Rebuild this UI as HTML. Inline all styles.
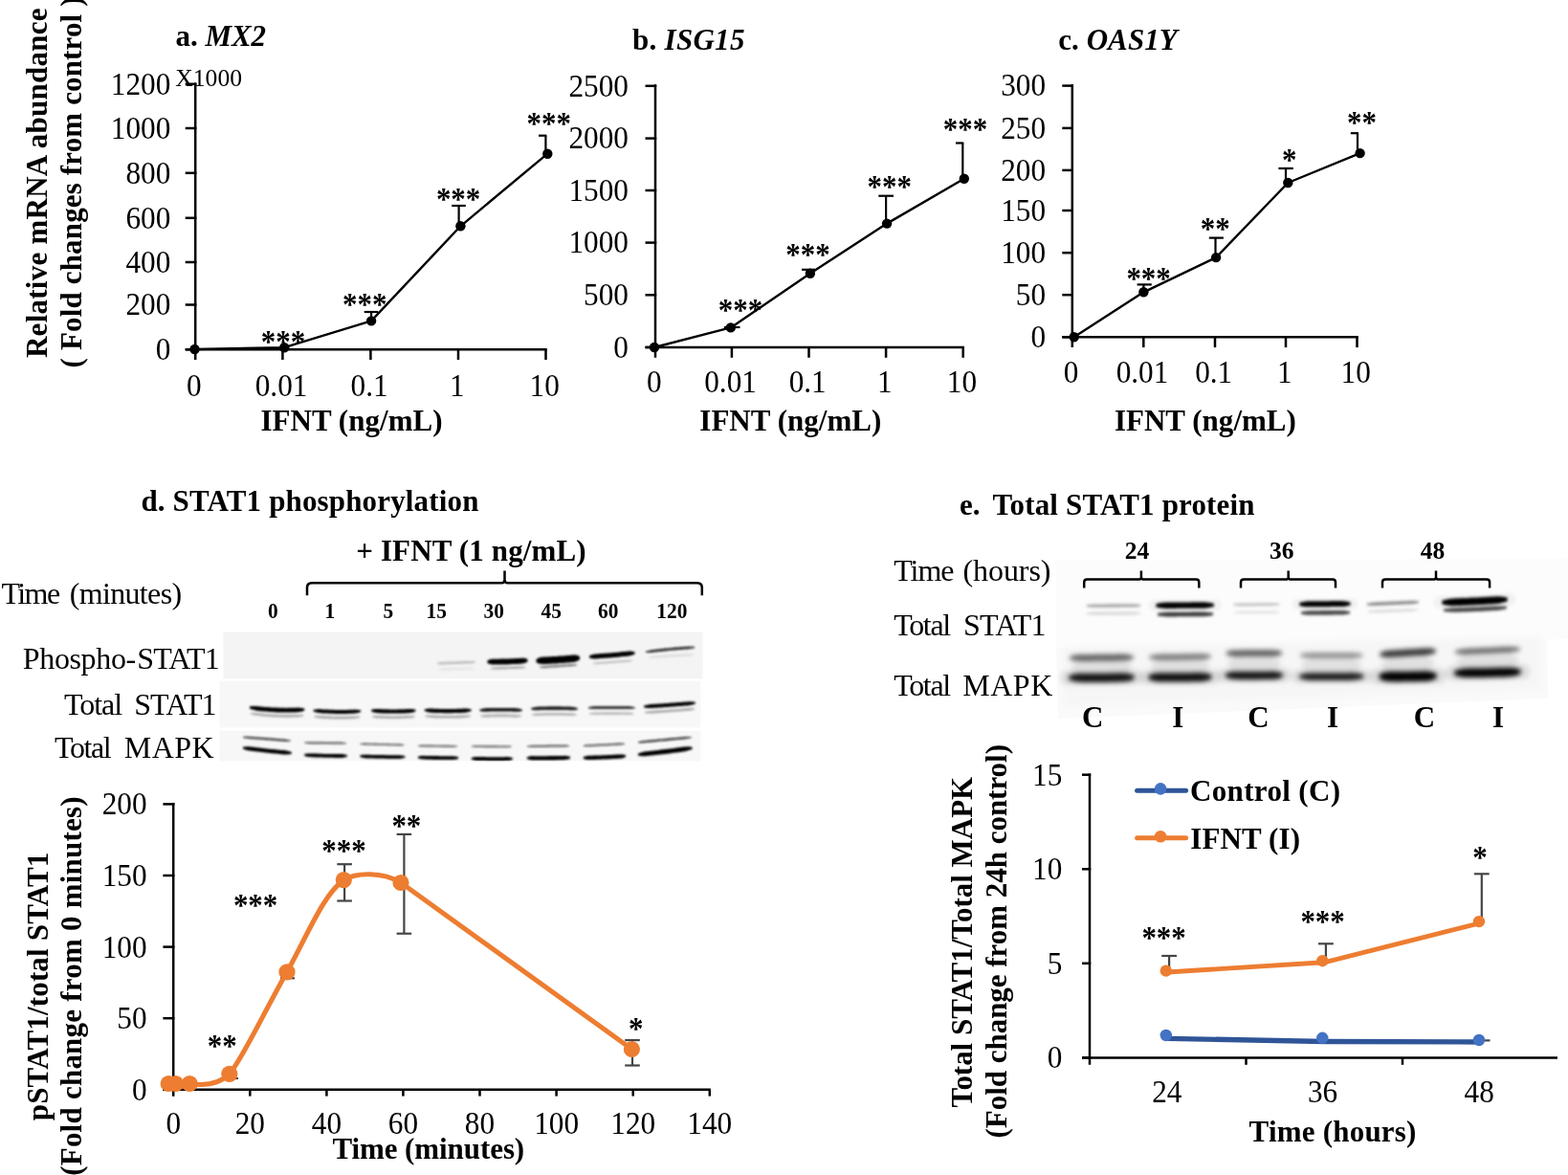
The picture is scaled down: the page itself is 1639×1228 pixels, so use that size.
<!DOCTYPE html>
<html><head><meta charset="utf-8"><title>Figure</title>
<style>
html,body{margin:0;padding:0;background:#fff;}
svg{display:block;font-family:"Liberation Serif",serif;fill:#000;}
</style></head><body>
<svg width="1639" height="1228" viewBox="0 0 1639 1228">
<defs>
<filter id="b1" filterUnits="userSpaceOnUse" x="200" y="640" width="600" height="180"><feGaussianBlur stdDeviation="1.1"/></filter>
<filter id="b2" filterUnits="userSpaceOnUse" x="1080" y="570" width="559" height="200"><feGaussianBlur stdDeviation="2.4"/></filter>
<filter id="b2s" filterUnits="userSpaceOnUse" x="1080" y="570" width="559" height="200"><feGaussianBlur stdDeviation="1.7"/></filter>
<filter id="b3" filterUnits="userSpaceOnUse" x="1080" y="570" width="559" height="200"><feGaussianBlur stdDeviation="3"/></filter>
</defs>
<rect x="0" y="0" width="1639" height="1228" fill="#fff"/>

<text x="183.6" y="47.9" font-size="31" font-weight="bold" textLength="94.5" lengthAdjust="spacing">a. <tspan font-style="italic">MX2</tspan></text>
<text x="661" y="51.8" font-size="31" font-weight="bold" textLength="117.4" lengthAdjust="spacing">b. <tspan font-style="italic">ISG15</tspan></text>
<text x="1106.2" y="51.8" font-size="31" font-weight="bold" textLength="124.5" lengthAdjust="spacing">c. <tspan font-style="italic">OAS1Y</tspan></text>
<text x="0" y="0" font-size="25.8" transform="translate(183.2,89.6) scale(0.995,1)" >X1000</text>
<text x="0" y="0" font-size="31" font-weight="bold" textLength="365.5" lengthAdjust="spacing" transform="translate(48.9,374.0) rotate(-90)" >Relative mRNA abundance</text>
<text x="0" y="0" font-size="31" font-weight="bold" textLength="388.0" lengthAdjust="spacing" transform="translate(85.4,384.4) rotate(-90)" >( Fold changes from control )</text>
<line x1="204.2" y1="86.5" x2="204.2" y2="376.0" stroke="#000" stroke-width="2.5" />
<line x1="193.7" y1="365.2" x2="205.4" y2="365.2" stroke="#000" stroke-width="2.5" />
<text x="0" y="0" font-size="33" text-anchor="end" transform="translate(178.3,375.9) scale(0.948,1)" >0</text>
<line x1="193.7" y1="318.5" x2="205.4" y2="318.5" stroke="#000" stroke-width="2.5" />
<text x="0" y="0" font-size="33" text-anchor="end" transform="translate(178.3,329.2) scale(0.948,1)" >200</text>
<line x1="193.7" y1="274.0" x2="205.4" y2="274.0" stroke="#000" stroke-width="2.5" />
<text x="0" y="0" font-size="33" text-anchor="end" transform="translate(178.3,284.7) scale(0.948,1)" >400</text>
<line x1="193.7" y1="227.8" x2="205.4" y2="227.8" stroke="#000" stroke-width="2.5" />
<text x="0" y="0" font-size="33" text-anchor="end" transform="translate(178.3,238.5) scale(0.948,1)" >600</text>
<line x1="193.7" y1="180.8" x2="205.4" y2="180.8" stroke="#000" stroke-width="2.5" />
<text x="0" y="0" font-size="33" text-anchor="end" transform="translate(178.3,191.5) scale(0.948,1)" >800</text>
<line x1="193.7" y1="134.0" x2="205.4" y2="134.0" stroke="#000" stroke-width="2.5" />
<text x="0" y="0" font-size="33" text-anchor="end" transform="translate(178.3,144.7) scale(0.948,1)" >1000</text>
<line x1="193.7" y1="87.8" x2="205.4" y2="87.8" stroke="#000" stroke-width="2.5" />
<text x="0" y="0" font-size="33" text-anchor="end" transform="translate(178.3,98.5) scale(0.948,1)" >1200</text>
<line x1="193.7" y1="365.2" x2="571.8" y2="365.2" stroke="#000" stroke-width="2.5" />
<line x1="295.4" y1="365.2" x2="295.4" y2="376.0" stroke="#000" stroke-width="2.5" />
<line x1="387.4" y1="365.2" x2="387.4" y2="376.0" stroke="#000" stroke-width="2.5" />
<line x1="479.0" y1="365.2" x2="479.0" y2="376.0" stroke="#000" stroke-width="2.5" />
<line x1="570.5" y1="365.2" x2="570.5" y2="376.0" stroke="#000" stroke-width="2.5" />
<text x="0" y="0" font-size="33" text-anchor="middle" transform="translate(202.9,413.6) scale(0.948,1)" >0</text>
<text x="0" y="0" font-size="33" text-anchor="middle" transform="translate(294.1,413.6) scale(0.948,1)" >0.01</text>
<text x="0" y="0" font-size="33" text-anchor="middle" transform="translate(386.1,413.6) scale(0.948,1)" >0.1</text>
<text x="0" y="0" font-size="33" text-anchor="middle" transform="translate(477.7,413.6) scale(0.948,1)" >1</text>
<text x="0" y="0" font-size="33" text-anchor="middle" transform="translate(569.2,413.6) scale(0.948,1)" >10</text>
<polyline points="203.5,365.0 297.2,363.2 388.1,335.4 481.4,236.3 572.3,160.7" fill="none" stroke="#000" stroke-width="2.4" stroke-linejoin="round" stroke-linecap="round" />
<line x1="388.1" y1="326.0" x2="388.1" y2="335.0" stroke="#000" stroke-width="2.2" />
<line x1="380.7" y1="326.0" x2="395.3" y2="326.0" stroke="#000" stroke-width="2.2" />
<line x1="479.6" y1="215.0" x2="479.6" y2="236.0" stroke="#000" stroke-width="2.2" />
<line x1="472.2" y1="215.0" x2="486.8" y2="215.0" stroke="#000" stroke-width="2.2" />
<line x1="570.4" y1="141.7" x2="570.4" y2="160.0" stroke="#000" stroke-width="2.2" />
<line x1="563.0" y1="141.7" x2="571.4" y2="141.7" stroke="#000" stroke-width="2.2" />
<circle cx="203.5" cy="365.0" r="5.2" fill="#000"/>
<circle cx="297.2" cy="363.2" r="5.2" fill="#000"/>
<circle cx="388.1" cy="335.4" r="5.2" fill="#000"/>
<circle cx="481.4" cy="236.3" r="5.2" fill="#000"/>
<circle cx="572.3" cy="160.7" r="5.2" fill="#000"/>
<text x="0" y="0" font-size="34" font-weight="bold" transform="translate(272.7,368.0) scale(0.91,1)" >***</text>
<text x="0" y="0" font-size="34" font-weight="bold" transform="translate(358.0,329.0) scale(0.91,1)" >***</text>
<text x="0" y="0" font-size="34" font-weight="bold" transform="translate(455.9,219.0) scale(0.91,1)" >***</text>
<text x="0" y="0" font-size="34" font-weight="bold" transform="translate(550.6,139.8) scale(0.91,1)" >***</text>
<text x="272.5" y="449.5" font-size="31" font-weight="bold" textLength="190.0" lengthAdjust="spacing" >IFNT (ng/mL)</text>
<line x1="685.0" y1="88.3" x2="685.0" y2="373.8" stroke="#000" stroke-width="2.5" />
<line x1="674.5" y1="363.0" x2="686.2" y2="363.0" stroke="#000" stroke-width="2.5" />
<text x="0" y="0" font-size="33" text-anchor="end" transform="translate(657.0,373.7) scale(0.948,1)" >0</text>
<line x1="674.5" y1="308.3" x2="686.2" y2="308.3" stroke="#000" stroke-width="2.5" />
<text x="0" y="0" font-size="33" text-anchor="end" transform="translate(657.0,319.0) scale(0.948,1)" >500</text>
<line x1="674.5" y1="253.6" x2="686.2" y2="253.6" stroke="#000" stroke-width="2.5" />
<text x="0" y="0" font-size="33" text-anchor="end" transform="translate(657.0,264.3) scale(0.948,1)" >1000</text>
<line x1="674.5" y1="199.0" x2="686.2" y2="199.0" stroke="#000" stroke-width="2.5" />
<text x="0" y="0" font-size="33" text-anchor="end" transform="translate(657.0,209.7) scale(0.948,1)" >1500</text>
<line x1="674.5" y1="144.6" x2="686.2" y2="144.6" stroke="#000" stroke-width="2.5" />
<text x="0" y="0" font-size="33" text-anchor="end" transform="translate(657.0,155.3) scale(0.948,1)" >2000</text>
<line x1="674.5" y1="89.8" x2="686.2" y2="89.8" stroke="#000" stroke-width="2.5" />
<text x="0" y="0" font-size="33" text-anchor="end" transform="translate(657.0,100.5) scale(0.948,1)" >2500</text>
<line x1="674.5" y1="363.0" x2="1008.0" y2="363.0" stroke="#000" stroke-width="2.5" />
<line x1="764.9" y1="363.0" x2="764.9" y2="373.8" stroke="#000" stroke-width="2.5" />
<line x1="845.5" y1="363.0" x2="845.5" y2="373.8" stroke="#000" stroke-width="2.5" />
<line x1="926.1" y1="363.0" x2="926.1" y2="373.8" stroke="#000" stroke-width="2.5" />
<line x1="1006.7" y1="363.0" x2="1006.7" y2="373.8" stroke="#000" stroke-width="2.5" />
<text x="0" y="0" font-size="33" text-anchor="middle" transform="translate(683.7,410.1) scale(0.948,1)" >0</text>
<text x="0" y="0" font-size="33" text-anchor="middle" transform="translate(763.6,410.1) scale(0.948,1)" >0.01</text>
<text x="0" y="0" font-size="33" text-anchor="middle" transform="translate(844.2,410.1) scale(0.948,1)" >0.1</text>
<text x="0" y="0" font-size="33" text-anchor="middle" transform="translate(924.8,410.1) scale(0.948,1)" >1</text>
<text x="0" y="0" font-size="33" text-anchor="middle" transform="translate(1005.4,410.1) scale(0.948,1)" >10</text>
<polyline points="684.0,363.0 763.8,342.4 846.9,285.7 927.1,233.6 1007.8,186.7" fill="none" stroke="#000" stroke-width="2.4" stroke-linejoin="round" stroke-linecap="round" />
<line x1="764.9" y1="342.0" x2="764.9" y2="342.0" stroke="#000" stroke-width="2.2" />
<line x1="757.0" y1="342.0" x2="773.5" y2="342.0" stroke="#000" stroke-width="2.2" />
<line x1="845.5" y1="281.8" x2="845.5" y2="285.0" stroke="#000" stroke-width="2.2" />
<line x1="838.0" y1="281.8" x2="852.0" y2="281.8" stroke="#000" stroke-width="2.2" />
<line x1="926.1" y1="204.7" x2="926.1" y2="233.0" stroke="#000" stroke-width="2.2" />
<line x1="918.3" y1="204.7" x2="934.0" y2="204.7" stroke="#000" stroke-width="2.2" />
<line x1="1006.3" y1="149.5" x2="1006.3" y2="186.0" stroke="#000" stroke-width="2.2" />
<line x1="999.0" y1="149.5" x2="1007.3" y2="149.5" stroke="#000" stroke-width="2.2" />
<circle cx="684.0" cy="363.0" r="5.2" fill="#000"/>
<circle cx="763.8" cy="342.4" r="5.2" fill="#000"/>
<circle cx="846.9" cy="285.7" r="5.2" fill="#000"/>
<circle cx="927.1" cy="233.6" r="5.2" fill="#000"/>
<circle cx="1007.8" cy="186.7" r="5.2" fill="#000"/>
<text x="0" y="0" font-size="34" font-weight="bold" transform="translate(750.7,334.8) scale(0.91,1)" >***</text>
<text x="0" y="0" font-size="34" font-weight="bold" transform="translate(821.2,277.0) scale(0.91,1)" >***</text>
<text x="0" y="0" font-size="34" font-weight="bold" transform="translate(906.6,206.1) scale(0.91,1)" >***</text>
<text x="0" y="0" font-size="34" font-weight="bold" transform="translate(985.7,145.8) scale(0.91,1)" >***</text>
<text x="731.3" y="449.5" font-size="31" font-weight="bold" textLength="190.0" lengthAdjust="spacing" >IFNT (ng/mL)</text>
<line x1="1120.8" y1="88.0" x2="1120.8" y2="363.1" stroke="#000" stroke-width="2.5" />
<line x1="1110.3" y1="352.3" x2="1122.0" y2="352.3" stroke="#000" stroke-width="2.5" />
<text x="0" y="0" font-size="33" text-anchor="end" transform="translate(1093.1,363.0) scale(0.948,1)" >0</text>
<line x1="1110.3" y1="308.2" x2="1122.0" y2="308.2" stroke="#000" stroke-width="2.5" />
<text x="0" y="0" font-size="33" text-anchor="end" transform="translate(1093.1,318.9) scale(0.948,1)" >50</text>
<line x1="1110.3" y1="264.2" x2="1122.0" y2="264.2" stroke="#000" stroke-width="2.5" />
<text x="0" y="0" font-size="33" text-anchor="end" transform="translate(1093.1,274.9) scale(0.948,1)" >100</text>
<line x1="1110.3" y1="220.0" x2="1122.0" y2="220.0" stroke="#000" stroke-width="2.5" />
<text x="0" y="0" font-size="33" text-anchor="end" transform="translate(1093.1,230.7) scale(0.948,1)" >150</text>
<line x1="1110.3" y1="177.9" x2="1122.0" y2="177.9" stroke="#000" stroke-width="2.5" />
<text x="0" y="0" font-size="33" text-anchor="end" transform="translate(1093.1,188.6) scale(0.948,1)" >200</text>
<line x1="1110.3" y1="133.9" x2="1122.0" y2="133.9" stroke="#000" stroke-width="2.5" />
<text x="0" y="0" font-size="33" text-anchor="end" transform="translate(1093.1,144.6) scale(0.948,1)" >250</text>
<line x1="1110.3" y1="89.6" x2="1122.0" y2="89.6" stroke="#000" stroke-width="2.5" />
<text x="0" y="0" font-size="33" text-anchor="end" transform="translate(1093.1,100.3) scale(0.948,1)" >300</text>
<line x1="1110.3" y1="352.3" x2="1419.8" y2="352.3" stroke="#000" stroke-width="2.5" />
<line x1="1195.3" y1="352.3" x2="1195.3" y2="363.1" stroke="#000" stroke-width="2.5" />
<line x1="1270.0" y1="352.3" x2="1270.0" y2="363.1" stroke="#000" stroke-width="2.5" />
<line x1="1344.0" y1="352.3" x2="1344.0" y2="363.1" stroke="#000" stroke-width="2.5" />
<line x1="1418.5" y1="352.3" x2="1418.5" y2="363.1" stroke="#000" stroke-width="2.5" />
<text x="0" y="0" font-size="33" text-anchor="middle" transform="translate(1119.5,399.8) scale(0.948,1)" >0</text>
<text x="0" y="0" font-size="33" text-anchor="middle" transform="translate(1194.0,399.8) scale(0.948,1)" >0.01</text>
<text x="0" y="0" font-size="33" text-anchor="middle" transform="translate(1268.7,399.8) scale(0.948,1)" >0.1</text>
<text x="0" y="0" font-size="33" text-anchor="middle" transform="translate(1342.7,399.8) scale(0.948,1)" >1</text>
<text x="0" y="0" font-size="33" text-anchor="middle" transform="translate(1417.2,399.8) scale(0.948,1)" >10</text>
<polyline points="1122.7,352.3 1195.4,305.3 1271.1,269.1 1346.3,191.0 1421.6,160.1" fill="none" stroke="#000" stroke-width="2.4" stroke-linejoin="round" stroke-linecap="round" />
<line x1="1195.4" y1="297.4" x2="1195.4" y2="305.0" stroke="#000" stroke-width="2.2" />
<line x1="1188.6" y1="297.4" x2="1203.8" y2="297.4" stroke="#000" stroke-width="2.2" />
<line x1="1270.5" y1="248.6" x2="1270.5" y2="269.0" stroke="#000" stroke-width="2.2" />
<line x1="1263.8" y1="248.6" x2="1278.9" y2="248.6" stroke="#000" stroke-width="2.2" />
<line x1="1344.0" y1="176.0" x2="1344.0" y2="191.0" stroke="#000" stroke-width="2.2" />
<line x1="1336.4" y1="176.0" x2="1351.8" y2="176.0" stroke="#000" stroke-width="2.2" />
<line x1="1419.0" y1="139.2" x2="1419.0" y2="160.0" stroke="#000" stroke-width="2.2" />
<line x1="1411.8" y1="139.2" x2="1420.0" y2="139.2" stroke="#000" stroke-width="2.2" />
<circle cx="1122.7" cy="352.3" r="5.2" fill="#000"/>
<circle cx="1195.4" cy="305.3" r="5.2" fill="#000"/>
<circle cx="1271.1" cy="269.1" r="5.2" fill="#000"/>
<circle cx="1346.3" cy="191.0" r="5.2" fill="#000"/>
<circle cx="1421.6" cy="160.1" r="5.2" fill="#000"/>
<text x="0" y="0" font-size="34" font-weight="bold" transform="translate(1177.4,302.3) scale(0.91,1)" >***</text>
<text x="0" y="0" font-size="34" font-weight="bold" transform="translate(1254.8,250.4) scale(0.91,1)" >**</text>
<text x="0" y="0" font-size="34" font-weight="bold" transform="translate(1339.9,178.4) scale(0.91,1)" >*</text>
<text x="0" y="0" font-size="34" font-weight="bold" transform="translate(1408.0,139.3) scale(0.91,1)" >**</text>
<text x="1164.9" y="449.5" font-size="31" font-weight="bold" textLength="190.0" lengthAdjust="spacing" >IFNT (ng/mL)</text>
<text x="147.4" y="534.2" font-size="31" font-weight="bold" textLength="353.0" lengthAdjust="spacing" >d. STAT1 phosphorylation</text>
<text x="372.2" y="586.1" font-size="31" font-weight="bold" textLength="240.5" lengthAdjust="spacing" >+ IFNT (1 ng/mL)</text>
<text x="1.4" y="630.6" font-size="32" textLength="61.7" lengthAdjust="spacing" >Time</text>
<text x="72.7" y="630.6" font-size="32" textLength="117.4" lengthAdjust="spacing" >(minutes)</text>
<text x="23.8" y="699.1" font-size="32" textLength="118.4" lengthAdjust="spacing" >Phospho-</text>
<text x="143.3" y="699.1" font-size="32" textLength="86.4" lengthAdjust="spacing" >STAT1</text>
<text x="66.9" y="747.2" font-size="32" textLength="61.3" lengthAdjust="spacing" >Total</text>
<text x="140.2" y="747.2" font-size="32" textLength="86.4" lengthAdjust="spacing" >STAT1</text>
<text x="57.1" y="792.4" font-size="32" textLength="59.5" lengthAdjust="spacing" >Total</text>
<text x="129.8" y="792.4" font-size="32" textLength="93.7" lengthAdjust="spacing" >MAPK</text>
<path d="M321,622.3 V614 Q321,609.2 326,609.2 H524.5 Q527.5,609.2 527.5,606 V596.6 V606 Q527.5,609.2 530.5,609.2 H728.8 Q733.8,609.2 733.8,614 V622.3" fill="none" stroke="#000" stroke-width="2.5"/>
<text x="0" y="0" font-size="23" font-weight="bold" text-anchor="middle" transform="translate(285.3,646.0) scale(0.93,1)" >0</text>
<text x="0" y="0" font-size="23" font-weight="bold" text-anchor="middle" transform="translate(344.8,646.0) scale(0.93,1)" >1</text>
<text x="0" y="0" font-size="23" font-weight="bold" text-anchor="middle" transform="translate(405.8,646.0) scale(0.93,1)" >5</text>
<text x="0" y="0" font-size="23" font-weight="bold" text-anchor="middle" transform="translate(456.2,646.0) scale(0.93,1)" >15</text>
<text x="0" y="0" font-size="23" font-weight="bold" text-anchor="middle" transform="translate(516.2,646.0) scale(0.93,1)" >30</text>
<text x="0" y="0" font-size="23" font-weight="bold" text-anchor="middle" transform="translate(576.3,646.0) scale(0.93,1)" >45</text>
<text x="0" y="0" font-size="23" font-weight="bold" text-anchor="middle" transform="translate(635.8,646.0) scale(0.93,1)" >60</text>
<text x="0" y="0" font-size="23" font-weight="bold" text-anchor="middle" transform="translate(702.3,646.0) scale(0.93,1)" >120</text>
<rect x="233.5" y="660.5" width="501" height="48.7" fill="#f4f4f4"/>
<rect x="229.5" y="711.7" width="503" height="48.7" fill="#f7f7f7"/>
<rect x="229.5" y="763.8" width="503" height="31.6" fill="#f7f7f7"/>
<clipPath id="cd"><rect x="233.5" y="660.5" width="501" height="48.7"/><rect x="229.5" y="711.7" width="503" height="48.7"/><rect x="229.5" y="763.8" width="503" height="31.6"/></clipPath>
<g clip-path="url(#cd)"><g filter="url(#b1)">
<path d="M457.0,692.7 L458.7,692.3 L460.3,692.0 L462.0,691.8 L463.7,691.8 L465.3,691.7 L467.0,691.7 L468.7,691.6 L470.3,691.6 L472.0,691.5 L473.7,691.5 L475.3,691.4 L477.0,691.4 L478.7,691.3 L480.3,691.2 L482.0,691.2 L483.7,691.1 L485.3,691.1 L487.0,691.0 L488.7,691.0 L490.3,690.9 L492.0,690.9 L493.7,690.9 L495.3,691.1 L497.0,691.4 L497.0,692.6 L495.3,693.0 L493.7,693.3 L492.0,693.5 L490.3,693.5 L488.7,693.6 L487.0,693.6 L485.3,693.7 L483.7,693.7 L482.0,693.8 L480.3,693.8 L478.7,693.9 L477.0,693.9 L475.3,694.0 L473.7,694.1 L472.0,694.1 L470.3,694.2 L468.7,694.2 L467.0,694.3 L465.3,694.3 L463.7,694.4 L462.0,694.4 L460.3,694.4 L458.7,694.2 L457.0,693.9Z" fill="#666" opacity="0.38"/>
<path d="M459.0,699.0 L460.5,698.8 L462.0,698.5 L463.5,698.4 L465.0,698.3 L466.5,698.3 L468.0,698.2 L469.5,698.2 L471.0,698.2 L472.5,698.1 L474.0,698.1 L475.5,698.0 L477.0,698.0 L478.5,698.0 L480.0,697.9 L481.5,697.9 L483.0,697.8 L484.5,697.8 L486.0,697.8 L487.5,697.7 L489.0,697.7 L490.5,697.6 L492.0,697.7 L493.5,697.8 L495.0,698.0 L495.0,699.0 L493.5,699.2 L492.0,699.5 L490.5,699.6 L489.0,699.7 L487.5,699.7 L486.0,699.8 L484.5,699.8 L483.0,699.8 L481.5,699.9 L480.0,699.9 L478.5,700.0 L477.0,700.0 L475.5,700.0 L474.0,700.1 L472.5,700.1 L471.0,700.2 L469.5,700.2 L468.0,700.2 L466.5,700.3 L465.0,700.3 L463.5,700.4 L462.0,700.3 L460.5,700.2 L459.0,700.0Z" fill="#888" opacity="0.15"/>
<path d="M509.5,690.3 L511.3,689.6 L513.0,689.0 L514.8,688.7 L516.5,688.7 L518.2,688.7 L520.0,688.7 L521.8,688.7 L523.5,688.6 L525.2,688.6 L527.0,688.6 L528.8,688.5 L530.5,688.5 L532.2,688.4 L534.0,688.3 L535.8,688.2 L537.5,688.2 L539.2,688.1 L541.0,688.0 L542.8,687.9 L544.5,687.8 L546.2,687.7 L548.0,687.8 L549.8,688.3 L551.5,688.9 L551.5,691.5 L549.8,692.4 L548.0,693.1 L546.2,693.5 L544.5,693.7 L542.8,693.8 L541.0,693.9 L539.2,694.0 L537.5,694.1 L535.8,694.1 L534.0,694.2 L532.2,694.3 L530.5,694.4 L528.8,694.4 L527.0,694.5 L525.2,694.5 L523.5,694.5 L521.8,694.6 L520.0,694.6 L518.2,694.6 L516.5,694.6 L514.8,694.6 L513.0,694.3 L511.3,693.7 L509.5,692.9Z" fill="#000" opacity="1"/>
<path d="M513.0,698.1 L514.5,697.8 L516.0,697.5 L517.5,697.4 L519.0,697.3 L520.5,697.2 L522.0,697.2 L523.5,697.1 L525.0,697.1 L526.5,697.0 L528.0,697.0 L529.5,697.0 L531.0,696.9 L532.5,696.9 L534.0,696.8 L535.5,696.8 L537.0,696.7 L538.5,696.6 L540.0,696.6 L541.5,696.5 L543.0,696.5 L544.5,696.5 L546.0,696.5 L547.5,696.7 L549.0,696.9 L549.0,697.9 L547.5,698.2 L546.0,698.5 L544.5,698.6 L543.0,698.7 L541.5,698.8 L540.0,698.8 L538.5,698.9 L537.0,698.9 L535.5,699.0 L534.0,699.0 L532.5,699.1 L531.0,699.1 L529.5,699.2 L528.0,699.2 L526.5,699.2 L525.0,699.3 L523.5,699.4 L522.0,699.4 L520.5,699.4 L519.0,699.5 L517.5,699.5 L516.0,699.5 L514.5,699.3 L513.0,699.1Z" fill="#555" opacity="0.5"/>
<path d="M560.5,688.9 L562.4,687.9 L564.3,687.1 L566.2,686.7 L568.1,686.6 L570.0,686.5 L571.9,686.4 L573.8,686.3 L575.7,686.2 L577.6,686.1 L579.5,686.0 L581.4,685.9 L583.2,685.8 L585.1,685.6 L587.0,685.5 L588.9,685.4 L590.8,685.2 L592.7,685.1 L594.6,684.9 L596.5,684.7 L598.4,684.6 L600.3,684.4 L602.2,684.6 L604.1,685.2 L606.0,685.9 L606.0,689.3 L604.1,690.4 L602.2,691.3 L600.3,691.9 L598.4,692.1 L596.5,692.2 L594.6,692.4 L592.7,692.6 L590.8,692.7 L588.9,692.9 L587.0,693.0 L585.1,693.1 L583.2,693.2 L581.4,693.4 L579.5,693.5 L577.6,693.6 L575.7,693.7 L573.8,693.8 L571.9,693.9 L570.0,694.0 L568.1,694.1 L566.2,694.1 L564.3,693.8 L562.4,693.2 L560.5,692.3Z" fill="#000" opacity="1"/>
<path d="M564.0,696.9 L565.6,696.5 L567.2,696.1 L568.9,695.9 L570.5,695.8 L572.1,695.7 L573.8,695.5 L575.4,695.4 L577.0,695.3 L578.6,695.2 L580.2,695.1 L581.9,695.0 L583.5,694.9 L585.1,694.8 L586.8,694.7 L588.4,694.6 L590.0,694.5 L591.6,694.4 L593.2,694.2 L594.9,694.1 L596.5,694.0 L598.1,693.9 L599.8,693.9 L601.4,694.1 L603.0,694.3 L603.0,695.3 L601.4,695.7 L599.8,696.1 L598.1,696.3 L596.5,696.4 L594.9,696.5 L593.2,696.6 L591.6,696.8 L590.0,696.9 L588.4,697.0 L586.8,697.1 L585.1,697.2 L583.5,697.3 L581.9,697.4 L580.2,697.5 L578.6,697.6 L577.0,697.7 L575.4,697.8 L573.8,697.9 L572.1,698.1 L570.5,698.2 L568.9,698.3 L567.2,698.3 L565.6,698.1 L564.0,697.9Z" fill="#333" opacity="0.6"/>
<path d="M616.0,685.3 L618.0,684.5 L620.0,683.9 L621.9,683.6 L623.9,683.4 L625.9,683.3 L627.9,683.1 L629.9,683.0 L631.8,682.8 L633.8,682.7 L635.8,682.5 L637.8,682.4 L639.8,682.2 L641.7,682.0 L643.7,681.9 L645.7,681.7 L647.7,681.5 L649.6,681.3 L651.6,681.1 L653.6,680.9 L655.6,680.7 L657.6,680.6 L659.5,680.6 L661.5,680.9 L663.5,681.3 L663.5,683.5 L661.5,684.4 L659.5,685.1 L657.6,685.5 L655.6,685.7 L653.6,685.9 L651.6,686.1 L649.6,686.3 L647.7,686.5 L645.7,686.7 L643.7,686.9 L641.7,687.0 L639.8,687.2 L637.8,687.4 L635.8,687.5 L633.8,687.7 L631.8,687.8 L629.9,688.0 L627.9,688.1 L625.9,688.3 L623.9,688.4 L621.9,688.5 L620.0,688.4 L618.0,688.0 L616.0,687.5Z" fill="#000" opacity="1"/>
<path d="M620.0,692.9 L621.7,692.6 L623.4,692.3 L625.1,692.0 L626.8,691.9 L628.5,691.8 L630.2,691.6 L632.0,691.5 L633.7,691.4 L635.4,691.3 L637.1,691.1 L638.8,691.0 L640.5,690.9 L642.2,690.8 L643.9,690.6 L645.6,690.5 L647.3,690.4 L649.0,690.3 L650.8,690.1 L652.5,690.0 L654.2,689.9 L655.9,689.8 L657.6,689.8 L659.3,689.8 L661.0,689.9 L661.0,690.9 L659.3,691.2 L657.6,691.5 L655.9,691.8 L654.2,691.9 L652.5,692.0 L650.8,692.1 L649.0,692.3 L647.3,692.4 L645.6,692.5 L643.9,692.6 L642.2,692.8 L640.5,692.9 L638.8,693.0 L637.1,693.1 L635.4,693.3 L633.7,693.4 L632.0,693.5 L630.2,693.6 L628.5,693.8 L626.8,693.9 L625.1,694.0 L623.4,694.0 L621.7,694.0 L620.0,693.9Z" fill="#666" opacity="0.4"/>
<path d="M675.0,680.8 L677.1,680.2 L679.2,679.7 L681.4,679.3 L683.5,679.0 L685.6,678.8 L687.8,678.5 L689.9,678.3 L692.0,678.1 L694.1,677.8 L696.2,677.6 L698.4,677.4 L700.5,677.2 L702.6,677.0 L704.8,676.8 L706.9,676.6 L709.0,676.5 L711.1,676.3 L713.2,676.1 L715.4,676.0 L717.5,675.8 L719.6,675.7 L721.8,675.7 L723.9,675.8 L726.0,676.0 L726.0,677.2 L723.9,677.6 L721.8,678.0 L719.6,678.3 L717.5,678.4 L715.4,678.6 L713.2,678.7 L711.1,678.9 L709.0,679.1 L706.9,679.2 L704.8,679.4 L702.6,679.6 L700.5,679.8 L698.4,680.0 L696.2,680.2 L694.1,680.4 L692.0,680.7 L689.9,680.9 L687.8,681.1 L685.6,681.4 L683.5,681.6 L681.4,681.9 L679.2,682.0 L677.1,682.0 L675.0,682.0Z" fill="#111" opacity="0.9"/>
<path d="M678.0,686.5 L680.0,686.2 L681.9,685.9 L683.9,685.6 L685.8,685.5 L687.8,685.4 L689.8,685.2 L691.7,685.1 L693.7,685.0 L695.6,684.9 L697.6,684.7 L699.5,684.6 L701.5,684.5 L703.5,684.4 L705.4,684.2 L707.4,684.1 L709.3,684.0 L711.3,683.9 L713.2,683.8 L715.2,683.6 L717.2,683.5 L719.1,683.4 L721.1,683.4 L723.0,683.4 L725.0,683.5 L725.0,684.5 L723.0,684.8 L721.1,685.1 L719.1,685.4 L717.2,685.5 L715.2,685.6 L713.2,685.8 L711.3,685.9 L709.3,686.0 L707.4,686.1 L705.4,686.2 L703.5,686.4 L701.5,686.5 L699.5,686.6 L697.6,686.7 L695.6,686.9 L693.7,687.0 L691.7,687.1 L689.8,687.2 L687.8,687.4 L685.8,687.5 L683.9,687.6 L681.9,687.6 L680.0,687.6 L678.0,687.5Z" fill="#888" opacity="0.25"/>
<path d="M261.0,738.3 L263.4,738.1 L265.8,737.9 L268.2,738.0 L270.5,738.3 L272.9,738.5 L275.3,738.7 L277.7,738.9 L280.1,739.1 L282.4,739.3 L284.8,739.4 L287.2,739.5 L289.6,739.6 L292.0,739.7 L294.4,739.8 L296.8,739.8 L299.1,739.9 L301.5,739.8 L303.9,739.8 L306.3,739.8 L308.7,739.7 L311.1,739.6 L313.4,739.8 L315.8,740.1 L318.2,740.5 L318.2,742.7 L315.8,743.4 L313.4,744.0 L311.1,744.3 L308.7,744.4 L306.3,744.5 L303.9,744.5 L301.5,744.5 L299.1,744.6 L296.8,744.5 L294.4,744.5 L292.0,744.4 L289.6,744.4 L287.2,744.2 L284.8,744.1 L282.4,744.0 L280.1,743.8 L277.7,743.6 L275.3,743.4 L272.9,743.2 L270.5,743.0 L268.2,742.7 L265.8,742.1 L263.4,741.4 L261.0,740.5Z" fill="#000" opacity="1"/>
<path d="M262.0,745.0 L264.3,745.0 L266.6,745.1 L268.9,745.2 L271.2,745.5 L273.5,745.7 L275.8,746.0 L278.1,746.2 L280.4,746.4 L282.7,746.5 L285.0,746.7 L287.3,746.8 L289.6,746.9 L291.9,747.0 L294.2,747.0 L296.5,747.1 L298.8,747.1 L301.1,747.1 L303.4,747.1 L305.7,747.0 L308.0,747.0 L310.3,746.9 L312.6,746.9 L314.9,747.0 L317.2,747.2 L317.2,748.4 L314.9,748.9 L312.6,749.2 L310.3,749.5 L308.0,749.6 L305.7,749.6 L303.4,749.7 L301.1,749.7 L298.8,749.7 L296.5,749.7 L294.2,749.6 L291.9,749.6 L289.6,749.5 L287.3,749.4 L285.0,749.3 L282.7,749.1 L280.4,749.0 L278.1,748.8 L275.8,748.6 L273.5,748.3 L271.2,748.1 L268.9,747.8 L266.6,747.4 L264.3,746.8 L262.0,746.2Z" fill="#333" opacity="0.4"/>
<path d="M327.6,741.7 L329.7,741.4 L331.7,741.2 L333.8,741.1 L335.9,741.3 L337.9,741.4 L340.0,741.5 L342.0,741.6 L344.1,741.7 L346.2,741.8 L348.2,741.8 L350.3,741.9 L352.4,741.9 L354.4,741.9 L356.5,741.9 L358.5,741.9 L360.6,741.9 L362.7,741.9 L364.7,741.8 L366.8,741.7 L368.9,741.7 L370.9,741.6 L373.0,741.7 L375.0,741.9 L377.1,742.3 L377.1,744.1 L375.0,744.7 L373.0,745.2 L370.9,745.5 L368.9,745.7 L366.8,745.7 L364.7,745.8 L362.7,745.9 L360.6,745.9 L358.5,745.9 L356.5,745.9 L354.4,745.9 L352.4,745.9 L350.3,745.9 L348.2,745.8 L346.2,745.8 L344.1,745.7 L342.0,745.6 L340.0,745.5 L337.9,745.4 L335.9,745.3 L333.8,745.1 L331.7,744.7 L329.7,744.2 L327.6,743.5Z" fill="#000" opacity="1"/>
<path d="M328.6,748.2 L330.6,748.1 L332.6,748.0 L334.5,748.0 L336.5,748.2 L338.5,748.3 L340.5,748.4 L342.5,748.5 L344.4,748.6 L346.4,748.7 L348.4,748.7 L350.4,748.8 L352.4,748.8 L354.3,748.8 L356.3,748.8 L358.3,748.8 L360.3,748.8 L362.2,748.8 L364.2,748.7 L366.2,748.6 L368.2,748.6 L370.2,748.5 L372.1,748.5 L374.1,748.6 L376.1,748.8 L376.1,750.0 L374.1,750.4 L372.1,750.8 L370.2,751.1 L368.2,751.2 L366.2,751.2 L364.2,751.3 L362.2,751.4 L360.3,751.4 L358.3,751.4 L356.3,751.4 L354.3,751.4 L352.4,751.4 L350.4,751.4 L348.4,751.3 L346.4,751.3 L344.4,751.2 L342.5,751.1 L340.5,751.0 L338.5,750.9 L336.5,750.8 L334.5,750.6 L332.6,750.3 L330.6,749.9 L328.6,749.4Z" fill="#333" opacity="0.4"/>
<path d="M388.2,741.7 L390.1,741.3 L392.0,741.0 L394.0,740.9 L395.9,741.0 L397.8,741.1 L399.7,741.2 L401.7,741.2 L403.6,741.3 L405.5,741.3 L407.4,741.4 L409.4,741.4 L411.3,741.4 L413.2,741.4 L415.1,741.4 L417.1,741.3 L419.0,741.3 L420.9,741.2 L422.8,741.2 L424.8,741.1 L426.7,741.0 L428.6,740.9 L430.5,741.0 L432.5,741.3 L434.4,741.7 L434.4,743.5 L432.5,744.2 L430.5,744.7 L428.6,745.1 L426.7,745.2 L424.8,745.3 L422.8,745.4 L420.9,745.4 L419.0,745.5 L417.1,745.5 L415.1,745.6 L413.2,745.6 L411.3,745.6 L409.4,745.6 L407.4,745.6 L405.5,745.5 L403.6,745.5 L401.7,745.4 L399.7,745.4 L397.8,745.3 L395.9,745.2 L394.0,745.1 L392.0,744.7 L390.1,744.2 L388.2,743.5Z" fill="#000" opacity="1"/>
<path d="M389.2,748.2 L391.0,748.0 L392.9,747.9 L394.7,747.9 L396.6,748.0 L398.4,748.1 L400.2,748.2 L402.1,748.2 L403.9,748.3 L405.8,748.3 L407.6,748.4 L409.5,748.4 L411.3,748.4 L413.1,748.4 L415.0,748.4 L416.8,748.3 L418.7,748.3 L420.5,748.2 L422.3,748.2 L424.2,748.1 L426.0,748.0 L427.9,747.9 L429.7,747.9 L431.6,748.0 L433.4,748.2 L433.4,749.4 L431.6,749.9 L429.7,750.2 L427.9,750.5 L426.0,750.6 L424.2,750.7 L422.3,750.8 L420.5,750.8 L418.7,750.9 L416.8,750.9 L415.0,751.0 L413.1,751.0 L411.3,751.0 L409.5,751.0 L407.6,751.0 L405.8,750.9 L403.9,750.9 L402.1,750.8 L400.2,750.8 L398.4,750.7 L396.6,750.6 L394.7,750.5 L392.9,750.2 L391.0,749.9 L389.2,749.4Z" fill="#333" opacity="0.4"/>
<path d="M443.7,741.3 L445.7,740.9 L447.8,740.6 L449.8,740.5 L451.9,740.6 L453.9,740.7 L455.9,740.8 L458.0,740.8 L460.0,740.9 L462.0,740.9 L464.1,741.0 L466.1,741.0 L468.1,741.0 L470.2,741.0 L472.2,741.0 L474.3,740.9 L476.3,740.9 L478.3,740.8 L480.4,740.8 L482.4,740.7 L484.4,740.6 L486.5,740.5 L488.5,740.6 L490.6,740.9 L492.6,741.3 L492.6,743.1 L490.6,743.8 L488.5,744.3 L486.5,744.7 L484.4,744.8 L482.4,744.9 L480.4,745.0 L478.3,745.0 L476.3,745.1 L474.3,745.1 L472.2,745.2 L470.2,745.2 L468.1,745.2 L466.1,745.2 L464.1,745.2 L462.0,745.1 L460.0,745.1 L458.0,745.0 L455.9,745.0 L453.9,744.9 L451.9,744.8 L449.8,744.7 L447.8,744.3 L445.7,743.8 L443.7,743.1Z" fill="#000" opacity="1"/>
<path d="M444.7,747.8 L446.7,747.6 L448.6,747.5 L450.6,747.5 L452.5,747.6 L454.5,747.7 L456.4,747.8 L458.4,747.8 L460.3,747.9 L462.3,747.9 L464.2,748.0 L466.2,748.0 L468.1,748.0 L470.1,748.0 L472.1,748.0 L474.0,747.9 L476.0,747.9 L477.9,747.8 L479.9,747.8 L481.8,747.7 L483.8,747.6 L485.7,747.5 L487.7,747.5 L489.6,747.6 L491.6,747.8 L491.6,749.0 L489.6,749.5 L487.7,749.8 L485.7,750.1 L483.8,750.2 L481.8,750.3 L479.9,750.4 L477.9,750.4 L476.0,750.5 L474.0,750.5 L472.1,750.6 L470.1,750.6 L468.1,750.6 L466.2,750.6 L464.2,750.6 L462.3,750.5 L460.3,750.5 L458.4,750.4 L456.4,750.4 L454.5,750.3 L452.5,750.2 L450.6,750.1 L448.6,749.8 L446.7,749.5 L444.7,749.0Z" fill="#333" opacity="0.4"/>
<path d="M501.4,741.4 L503.3,740.9 L505.1,740.4 L506.9,740.2 L508.8,740.1 L510.6,740.1 L512.5,740.0 L514.3,740.0 L516.2,740.0 L518.0,739.9 L519.9,739.9 L521.8,739.9 L523.6,739.9 L525.4,739.9 L527.3,739.9 L529.1,739.9 L531.0,740.0 L532.8,740.0 L534.7,740.0 L536.5,740.1 L538.4,740.1 L540.2,740.2 L542.1,740.4 L543.9,740.9 L545.8,741.4 L545.8,743.0 L543.9,743.4 L542.1,743.7 L540.2,743.8 L538.4,743.7 L536.5,743.7 L534.7,743.6 L532.8,743.6 L531.0,743.6 L529.1,743.5 L527.3,743.5 L525.4,743.5 L523.6,743.5 L521.8,743.5 L519.9,743.5 L518.0,743.5 L516.2,743.6 L514.3,743.6 L512.5,743.6 L510.6,743.7 L508.8,743.7 L506.9,743.8 L505.1,743.7 L503.3,743.4 L501.4,743.0Z" fill="#000" opacity="0.92"/>
<path d="M502.4,747.8 L504.2,747.4 L505.9,747.1 L507.7,746.9 L509.5,746.8 L511.2,746.8 L513.0,746.7 L514.8,746.7 L516.5,746.7 L518.3,746.6 L520.1,746.6 L521.8,746.6 L523.6,746.6 L525.4,746.6 L527.1,746.6 L528.9,746.6 L530.7,746.7 L532.4,746.7 L534.2,746.7 L536.0,746.8 L537.7,746.8 L539.5,746.9 L541.3,747.1 L543.0,747.4 L544.8,747.8 L544.8,749.0 L543.0,749.2 L541.3,749.4 L539.5,749.5 L537.7,749.4 L536.0,749.4 L534.2,749.3 L532.4,749.3 L530.7,749.3 L528.9,749.2 L527.1,749.2 L525.4,749.2 L523.6,749.2 L521.8,749.2 L520.1,749.2 L518.3,749.2 L516.5,749.3 L514.8,749.3 L513.0,749.3 L511.2,749.4 L509.5,749.4 L507.7,749.5 L505.9,749.4 L504.2,749.2 L502.4,749.0Z" fill="#333" opacity="0.36800000000000005"/>
<path d="M555.2,740.0 L557.2,739.4 L559.2,739.0 L561.3,738.7 L563.3,738.6 L565.3,738.5 L567.3,738.5 L569.4,738.4 L571.4,738.4 L573.4,738.3 L575.4,738.3 L577.5,738.3 L579.5,738.3 L581.5,738.3 L583.5,738.3 L585.6,738.3 L587.6,738.4 L589.6,738.4 L591.6,738.5 L593.7,738.5 L595.7,738.6 L597.7,738.7 L599.7,739.0 L601.8,739.4 L603.8,740.0 L603.8,741.6 L601.8,741.9 L599.7,742.2 L597.7,742.3 L595.7,742.2 L593.7,742.1 L591.6,742.1 L589.6,742.0 L587.6,742.0 L585.6,741.9 L583.5,741.9 L581.5,741.9 L579.5,741.9 L577.5,741.9 L575.4,741.9 L573.4,741.9 L571.4,742.0 L569.4,742.0 L567.3,742.1 L565.3,742.1 L563.3,742.2 L561.3,742.3 L559.2,742.2 L557.2,741.9 L555.2,741.6Z" fill="#000" opacity="0.88"/>
<path d="M556.2,746.4 L558.1,746.0 L560.1,745.6 L562.0,745.4 L564.0,745.3 L565.9,745.2 L567.8,745.2 L569.8,745.1 L571.7,745.1 L573.7,745.0 L575.6,745.0 L577.6,745.0 L579.5,745.0 L581.4,745.0 L583.4,745.0 L585.3,745.0 L587.3,745.1 L589.2,745.1 L591.1,745.2 L593.1,745.2 L595.0,745.3 L597.0,745.4 L598.9,745.6 L600.9,746.0 L602.8,746.4 L602.8,747.6 L600.9,747.8 L598.9,747.9 L597.0,748.0 L595.0,747.9 L593.1,747.8 L591.1,747.8 L589.2,747.7 L587.3,747.7 L585.3,747.6 L583.4,747.6 L581.4,747.6 L579.5,747.6 L577.6,747.6 L575.6,747.6 L573.7,747.6 L571.7,747.7 L569.8,747.7 L567.8,747.8 L565.9,747.8 L564.0,747.9 L562.0,748.0 L560.1,747.9 L558.1,747.8 L556.2,747.6Z" fill="#333" opacity="0.35200000000000004"/>
<path d="M615.0,739.1 L617.0,738.7 L619.0,738.3 L621.1,738.1 L623.1,738.1 L625.1,738.0 L627.1,738.0 L629.2,738.0 L631.2,737.9 L633.2,737.9 L635.2,737.9 L637.3,737.9 L639.3,737.9 L641.3,737.9 L643.4,737.9 L645.4,737.9 L647.4,737.9 L649.4,738.0 L651.5,738.0 L653.5,738.0 L655.5,738.1 L657.5,738.1 L659.5,738.3 L661.6,738.7 L663.6,739.1 L663.6,740.5 L661.6,740.8 L659.5,741.0 L657.5,741.1 L655.5,741.1 L653.5,741.0 L651.5,741.0 L649.4,741.0 L647.4,740.9 L645.4,740.9 L643.4,740.9 L641.3,740.9 L639.3,740.9 L637.3,740.9 L635.2,740.9 L633.2,740.9 L631.2,740.9 L629.2,741.0 L627.1,741.0 L625.1,741.0 L623.1,741.1 L621.1,741.1 L619.0,741.0 L617.0,740.8 L615.0,740.5Z" fill="#000" opacity="0.78"/>
<path d="M616.0,745.4 L617.9,745.0 L619.9,744.7 L621.8,744.5 L623.8,744.5 L625.7,744.4 L627.6,744.4 L629.6,744.4 L631.5,744.3 L633.5,744.3 L635.4,744.3 L637.4,744.3 L639.3,744.3 L641.2,744.3 L643.2,744.3 L645.1,744.3 L647.1,744.3 L649.0,744.4 L651.0,744.4 L652.9,744.4 L654.8,744.5 L656.8,744.5 L658.7,744.7 L660.7,745.0 L662.6,745.4 L662.6,746.6 L660.7,746.8 L658.7,747.0 L656.8,747.1 L654.8,747.1 L652.9,747.0 L651.0,747.0 L649.0,747.0 L647.1,746.9 L645.1,746.9 L643.2,746.9 L641.2,746.9 L639.3,746.9 L637.4,746.9 L635.4,746.9 L633.5,746.9 L631.5,746.9 L629.6,747.0 L627.6,747.0 L625.7,747.0 L623.8,747.1 L621.8,747.1 L619.9,747.0 L617.9,746.8 L616.0,746.6Z" fill="#333" opacity="0.31200000000000006"/>
<path d="M673.0,737.5 L675.2,736.9 L677.5,736.4 L679.7,736.1 L682.0,735.9 L684.2,735.8 L686.4,735.7 L688.7,735.5 L690.9,735.4 L693.2,735.3 L695.4,735.1 L697.7,735.0 L699.9,734.8 L702.1,734.6 L704.4,734.5 L706.6,734.3 L708.9,734.1 L711.1,734.0 L713.3,733.8 L715.6,733.6 L717.8,733.4 L720.1,733.2 L722.3,733.2 L724.6,733.4 L726.8,733.7 L726.8,735.5 L724.6,736.2 L722.3,736.8 L720.1,737.2 L717.8,737.4 L715.6,737.6 L713.3,737.8 L711.1,738.0 L708.9,738.1 L706.6,738.3 L704.4,738.5 L702.1,738.6 L699.9,738.8 L697.7,739.0 L695.4,739.1 L693.2,739.3 L690.9,739.4 L688.7,739.5 L686.4,739.7 L684.2,739.8 L682.0,739.9 L679.7,740.0 L677.5,740.0 L675.2,739.7 L673.0,739.3Z" fill="#000" opacity="1"/>
<path d="M674.0,744.0 L676.2,743.6 L678.3,743.2 L680.5,743.0 L682.6,742.8 L684.8,742.7 L686.9,742.6 L689.1,742.4 L691.3,742.3 L693.4,742.2 L695.6,742.0 L697.7,741.9 L699.9,741.7 L702.1,741.5 L704.2,741.4 L706.4,741.2 L708.5,741.0 L710.7,740.9 L712.8,740.7 L715.0,740.5 L717.2,740.3 L719.3,740.1 L721.5,740.0 L723.6,740.1 L725.8,740.2 L725.8,741.4 L723.6,741.9 L721.5,742.4 L719.3,742.7 L717.2,742.9 L715.0,743.1 L712.8,743.3 L710.7,743.5 L708.5,743.6 L706.4,743.8 L704.2,744.0 L702.1,744.1 L699.9,744.3 L697.7,744.5 L695.6,744.6 L693.4,744.8 L691.3,744.9 L689.1,745.0 L686.9,745.2 L684.8,745.3 L682.6,745.4 L680.5,745.5 L678.3,745.5 L676.2,745.4 L674.0,745.2Z" fill="#333" opacity="0.4"/>
<path d="M254.0,769.9 L256.1,769.8 L258.1,769.7 L260.2,769.7 L262.3,769.9 L264.4,770.0 L266.4,770.2 L268.5,770.4 L270.6,770.5 L272.6,770.7 L274.7,770.8 L276.8,771.0 L278.9,771.1 L280.9,771.3 L283.0,771.5 L285.1,771.6 L287.1,771.8 L289.2,771.9 L291.3,772.1 L293.3,772.3 L295.4,772.4 L297.5,772.6 L299.6,772.9 L301.6,773.2 L303.7,773.7 L303.7,774.7 L301.6,774.8 L299.6,774.9 L297.5,774.9 L295.4,774.7 L293.3,774.6 L291.3,774.4 L289.2,774.2 L287.1,774.1 L285.1,773.9 L283.0,773.8 L280.9,773.6 L278.9,773.4 L276.8,773.3 L274.7,773.1 L272.6,773.0 L270.6,772.8 L268.5,772.7 L266.4,772.5 L264.4,772.3 L262.3,772.2 L260.2,772.0 L258.1,771.7 L256.1,771.4 L254.0,770.9Z" fill="#111" opacity="0.78"/>
<path d="M254.0,780.6 L256.1,780.4 L258.2,780.2 L260.3,780.3 L262.5,780.5 L264.6,780.8 L266.7,781.0 L268.8,781.3 L270.9,781.5 L273.0,781.8 L275.1,782.0 L277.2,782.2 L279.4,782.5 L281.5,782.7 L283.6,782.9 L285.7,783.1 L287.8,783.3 L289.9,783.5 L292.0,783.7 L294.1,783.9 L296.2,784.1 L298.4,784.3 L300.5,784.7 L302.6,785.3 L304.7,786.0 L304.7,788.0 L302.6,788.3 L300.5,788.6 L298.4,788.6 L296.2,788.4 L294.1,788.2 L292.0,788.0 L289.9,787.8 L287.8,787.6 L285.7,787.4 L283.6,787.2 L281.5,787.0 L279.4,786.8 L277.2,786.5 L275.1,786.3 L273.0,786.1 L270.9,785.8 L268.8,785.6 L266.7,785.3 L264.6,785.1 L262.5,784.8 L260.3,784.5 L258.2,784.1 L256.1,783.4 L254.0,782.6Z" fill="#000" opacity="1"/>
<path d="M318.2,775.7 L320.0,775.5 L321.8,775.3 L323.6,775.2 L325.5,775.2 L327.3,775.2 L329.1,775.2 L330.9,775.3 L332.7,775.3 L334.6,775.3 L336.4,775.3 L338.2,775.4 L340.0,775.4 L341.8,775.4 L343.6,775.4 L345.4,775.5 L347.3,775.5 L349.1,775.5 L350.9,775.5 L352.7,775.6 L354.5,775.6 L356.4,775.6 L358.2,775.8 L360.0,776.0 L361.8,776.3 L361.8,777.3 L360.0,777.5 L358.2,777.7 L356.4,777.8 L354.5,777.8 L352.7,777.8 L350.9,777.8 L349.1,777.7 L347.3,777.7 L345.4,777.7 L343.6,777.6 L341.8,777.6 L340.0,777.6 L338.2,777.6 L336.4,777.5 L334.6,777.5 L332.7,777.5 L330.9,777.5 L329.1,777.4 L327.3,777.4 L325.5,777.4 L323.6,777.4 L321.8,777.2 L320.0,777.0 L318.2,776.7Z" fill="#111" opacity="0.62"/>
<path d="M318.2,788.1 L320.1,787.8 L321.9,787.5 L323.8,787.4 L325.6,787.4 L327.5,787.5 L329.3,787.6 L331.2,787.6 L333.1,787.7 L334.9,787.8 L336.8,787.8 L338.6,787.9 L340.5,787.9 L342.4,787.9 L344.2,788.0 L346.1,788.0 L347.9,788.0 L349.8,788.1 L351.6,788.1 L353.5,788.1 L355.4,788.1 L357.2,788.1 L359.1,788.3 L360.9,788.7 L362.8,789.1 L362.8,790.9 L360.9,791.3 L359.1,791.7 L357.2,791.9 L355.4,791.9 L353.5,791.9 L351.6,791.9 L349.8,791.9 L347.9,791.8 L346.1,791.8 L344.2,791.8 L342.4,791.7 L340.5,791.7 L338.6,791.7 L336.8,791.6 L334.9,791.6 L333.1,791.5 L331.2,791.4 L329.3,791.4 L327.5,791.3 L325.6,791.2 L323.8,791.1 L321.9,790.9 L320.1,790.4 L318.2,789.9Z" fill="#000" opacity="1"/>
<path d="M376.3,777.0 L378.2,776.8 L380.1,776.6 L382.1,776.6 L384.0,776.6 L385.9,776.7 L387.8,776.7 L389.7,776.7 L391.7,776.8 L393.6,776.8 L395.5,776.9 L397.4,776.9 L399.4,777.0 L401.3,777.0 L403.2,777.0 L405.1,777.1 L407.0,777.1 L409.0,777.2 L410.9,777.2 L412.8,777.2 L414.7,777.3 L416.6,777.3 L418.6,777.5 L420.5,777.7 L422.4,778.0 L422.4,779.0 L420.5,779.2 L418.6,779.4 L416.6,779.4 L414.7,779.4 L412.8,779.3 L410.9,779.3 L409.0,779.3 L407.0,779.2 L405.1,779.2 L403.2,779.1 L401.3,779.1 L399.4,779.0 L397.4,779.0 L395.5,779.0 L393.6,778.9 L391.7,778.9 L389.7,778.8 L387.8,778.8 L385.9,778.8 L384.0,778.7 L382.1,778.7 L380.1,778.5 L378.2,778.3 L376.3,778.0Z" fill="#111" opacity="0.58"/>
<path d="M376.3,789.5 L378.3,789.1 L380.2,788.8 L382.2,788.7 L384.2,788.7 L386.1,788.8 L388.1,788.9 L390.0,788.9 L392.0,789.0 L394.0,789.0 L395.9,789.0 L397.9,789.1 L399.9,789.1 L401.8,789.1 L403.8,789.2 L405.7,789.2 L407.7,789.2 L409.7,789.2 L411.6,789.2 L413.6,789.2 L415.5,789.2 L417.5,789.2 L419.5,789.4 L421.4,789.7 L423.4,790.2 L423.4,791.8 L421.4,792.3 L419.5,792.7 L417.5,792.9 L415.5,792.9 L413.6,792.9 L411.6,792.9 L409.7,792.9 L407.7,792.9 L405.7,792.9 L403.8,792.9 L401.8,792.8 L399.9,792.8 L397.9,792.8 L395.9,792.7 L394.0,792.7 L392.0,792.7 L390.0,792.6 L388.1,792.6 L386.1,792.5 L384.2,792.4 L382.2,792.4 L380.2,792.1 L378.3,791.7 L376.3,791.1Z" fill="#000" opacity="1"/>
<path d="M437.0,779.0 L438.7,778.8 L440.4,778.6 L442.1,778.5 L443.8,778.5 L445.5,778.6 L447.2,778.6 L449.0,778.6 L450.7,778.6 L452.4,778.6 L454.1,778.7 L455.8,778.7 L457.5,778.7 L459.2,778.7 L460.9,778.7 L462.6,778.8 L464.3,778.8 L466.0,778.8 L467.8,778.8 L469.5,778.8 L471.2,778.9 L472.9,778.9 L474.6,779.0 L476.3,779.2 L478.0,779.5 L478.0,780.5 L476.3,780.7 L474.6,780.9 L472.9,781.0 L471.2,781.0 L469.5,780.9 L467.8,780.9 L466.0,780.9 L464.3,780.9 L462.6,780.9 L460.9,780.8 L459.2,780.8 L457.5,780.8 L455.8,780.8 L454.1,780.8 L452.4,780.7 L450.7,780.7 L449.0,780.7 L447.2,780.7 L445.5,780.7 L443.8,780.6 L442.1,780.6 L440.4,780.5 L438.7,780.3 L437.0,780.0Z" fill="#111" opacity="0.58"/>
<path d="M437.0,790.6 L438.8,790.2 L440.5,789.9 L442.2,789.8 L444.0,789.9 L445.8,789.9 L447.5,790.0 L449.2,790.0 L451.0,790.0 L452.8,790.1 L454.5,790.1 L456.3,790.1 L458.0,790.1 L459.8,790.2 L461.5,790.2 L463.2,790.2 L465.0,790.2 L466.8,790.2 L468.5,790.2 L470.2,790.2 L472.0,790.2 L473.8,790.2 L475.5,790.4 L477.2,790.7 L479.0,791.1 L479.0,792.9 L477.2,793.4 L475.5,793.7 L473.8,794.0 L472.0,794.0 L470.2,794.0 L468.5,794.0 L466.8,794.0 L465.0,794.0 L463.2,794.0 L461.5,794.0 L459.8,794.0 L458.0,793.9 L456.3,793.9 L454.5,793.9 L452.8,793.9 L451.0,793.8 L449.2,793.8 L447.5,793.8 L445.8,793.7 L444.0,793.6 L442.2,793.6 L440.5,793.3 L438.8,792.9 L437.0,792.4Z" fill="#000" opacity="1"/>
<path d="M492.8,779.5 L494.5,779.3 L496.3,779.1 L498.0,779.0 L499.8,779.0 L501.5,779.0 L503.3,779.0 L505.0,779.0 L506.8,779.1 L508.5,779.1 L510.3,779.1 L512.0,779.1 L513.8,779.1 L515.5,779.1 L517.2,779.1 L519.0,779.1 L520.7,779.2 L522.5,779.2 L524.2,779.2 L526.0,779.2 L527.7,779.2 L529.5,779.2 L531.2,779.3 L533.0,779.6 L534.7,779.8 L534.7,780.8 L533.0,781.0 L531.2,781.2 L529.5,781.3 L527.7,781.3 L526.0,781.3 L524.2,781.3 L522.5,781.3 L520.7,781.2 L519.0,781.2 L517.2,781.2 L515.5,781.2 L513.8,781.2 L512.0,781.2 L510.3,781.2 L508.5,781.2 L506.8,781.2 L505.0,781.1 L503.3,781.1 L501.5,781.1 L499.8,781.1 L498.0,781.1 L496.3,781.0 L494.5,780.7 L492.8,780.5Z" fill="#111" opacity="0.58"/>
<path d="M492.8,791.9 L494.6,791.5 L496.4,791.1 L498.2,791.0 L500.0,791.0 L501.7,791.0 L503.5,791.1 L505.3,791.1 L507.1,791.1 L508.9,791.2 L510.7,791.2 L512.5,791.2 L514.2,791.2 L516.0,791.2 L517.8,791.2 L519.6,791.2 L521.4,791.2 L523.2,791.2 L525.0,791.2 L526.8,791.2 L528.6,791.1 L530.3,791.1 L532.1,791.3 L533.9,791.6 L535.7,792.1 L535.7,793.9 L533.9,794.4 L532.1,794.9 L530.3,795.1 L528.6,795.1 L526.8,795.2 L525.0,795.2 L523.2,795.2 L521.4,795.2 L519.6,795.2 L517.8,795.2 L516.0,795.2 L514.2,795.2 L512.5,795.2 L510.7,795.2 L508.9,795.2 L507.1,795.1 L505.3,795.1 L503.5,795.1 L501.7,795.0 L500.0,795.0 L498.2,794.9 L496.4,794.7 L494.6,794.3 L492.8,793.7Z" fill="#000" opacity="1"/>
<path d="M550.9,779.5 L552.7,779.2 L554.6,779.0 L556.4,778.8 L558.3,778.8 L560.1,778.8 L561.9,778.8 L563.8,778.8 L565.6,778.7 L567.4,778.7 L569.3,778.7 L571.1,778.7 L573.0,778.6 L574.8,778.6 L576.6,778.6 L578.5,778.6 L580.3,778.6 L582.1,778.5 L584.0,778.5 L585.8,778.5 L587.7,778.5 L589.5,778.5 L591.3,778.6 L593.2,778.8 L595.0,779.0 L595.0,780.0 L593.2,780.3 L591.3,780.5 L589.5,780.7 L587.7,780.7 L585.8,780.7 L584.0,780.7 L582.1,780.7 L580.3,780.8 L578.5,780.8 L576.6,780.8 L574.8,780.8 L573.0,780.9 L571.1,780.9 L569.3,780.9 L567.4,780.9 L565.6,780.9 L563.8,781.0 L561.9,781.0 L560.1,781.0 L558.3,781.0 L556.4,781.0 L554.6,780.9 L552.7,780.7 L550.9,780.5Z" fill="#111" opacity="0.62"/>
<path d="M550.9,791.2 L552.8,790.7 L554.7,790.3 L556.5,790.1 L558.4,790.2 L560.3,790.2 L562.2,790.2 L564.1,790.2 L565.9,790.2 L567.8,790.2 L569.7,790.2 L571.6,790.2 L573.5,790.1 L575.3,790.1 L577.2,790.1 L579.1,790.1 L581.0,790.1 L582.8,790.0 L584.7,790.0 L586.6,789.9 L588.5,789.9 L590.4,789.8 L592.2,790.0 L594.1,790.4 L596.0,790.8 L596.0,792.8 L594.1,793.4 L592.2,793.8 L590.4,794.1 L588.5,794.2 L586.6,794.2 L584.7,794.3 L582.8,794.3 L581.0,794.4 L579.1,794.4 L577.2,794.4 L575.3,794.4 L573.5,794.4 L571.6,794.5 L569.7,794.5 L567.8,794.5 L565.9,794.5 L564.1,794.5 L562.2,794.5 L560.3,794.5 L558.4,794.5 L556.5,794.4 L554.7,794.2 L552.8,793.7 L550.9,793.2Z" fill="#000" opacity="1"/>
<path d="M609.8,779.0 L611.6,778.6 L613.4,778.3 L615.2,778.1 L617.0,778.1 L618.8,778.0 L620.6,777.9 L622.4,777.8 L624.2,777.7 L626.0,777.6 L627.8,777.5 L629.6,777.4 L631.4,777.4 L633.2,777.3 L635.0,777.2 L636.8,777.1 L638.6,777.0 L640.4,776.9 L642.2,776.8 L644.0,776.7 L645.8,776.6 L647.6,776.6 L649.4,776.6 L651.2,776.7 L653.0,776.9 L653.0,777.9 L651.2,778.3 L649.4,778.6 L647.6,778.8 L645.8,778.9 L644.0,778.9 L642.2,779.0 L640.4,779.1 L638.6,779.2 L636.8,779.3 L635.0,779.4 L633.2,779.5 L631.4,779.6 L629.6,779.6 L627.8,779.7 L626.0,779.8 L624.2,779.9 L622.4,780.0 L620.6,780.1 L618.8,780.2 L617.0,780.3 L615.2,780.3 L613.4,780.3 L611.6,780.2 L609.8,780.0Z" fill="#111" opacity="0.62"/>
<path d="M609.8,791.0 L611.6,790.5 L613.5,790.0 L615.3,789.8 L617.2,789.7 L619.0,789.7 L620.8,789.6 L622.7,789.6 L624.5,789.5 L626.4,789.5 L628.2,789.4 L630.1,789.3 L631.9,789.3 L633.7,789.2 L635.6,789.1 L637.4,789.0 L639.3,788.9 L641.1,788.8 L643.0,788.7 L644.8,788.6 L646.6,788.5 L648.5,788.4 L650.3,788.5 L652.2,788.8 L654.0,789.2 L654.0,791.2 L652.2,791.8 L650.3,792.4 L648.5,792.7 L646.6,792.8 L644.8,792.9 L643.0,793.0 L641.1,793.1 L639.3,793.2 L637.4,793.3 L635.6,793.4 L633.7,793.5 L631.9,793.6 L630.1,793.6 L628.2,793.7 L626.4,793.8 L624.5,793.8 L622.7,793.9 L620.8,793.9 L619.0,794.0 L617.2,794.0 L615.3,794.0 L613.5,793.9 L611.6,793.5 L609.8,793.0Z" fill="#000" opacity="1"/>
<path d="M667.0,775.3 L669.3,774.7 L671.6,774.3 L673.9,774.0 L676.3,773.7 L678.6,773.5 L680.9,773.3 L683.2,773.1 L685.5,772.9 L687.8,772.6 L690.1,772.4 L692.4,772.2 L694.8,772.0 L697.1,771.8 L699.4,771.6 L701.7,771.3 L704.0,771.1 L706.3,770.9 L708.6,770.7 L710.9,770.5 L713.2,770.3 L715.6,770.1 L717.9,770.0 L720.2,770.0 L722.5,770.1 L722.5,771.1 L720.2,771.7 L717.9,772.1 L715.6,772.4 L713.2,772.7 L710.9,772.9 L708.6,773.1 L706.3,773.3 L704.0,773.5 L701.7,773.8 L699.4,774.0 L697.1,774.2 L694.8,774.4 L692.4,774.6 L690.1,774.8 L687.8,775.1 L685.5,775.3 L683.2,775.5 L680.9,775.7 L678.6,775.9 L676.3,776.1 L673.9,776.3 L671.6,776.4 L669.3,776.4 L667.0,776.3Z" fill="#111" opacity="0.78"/>
<path d="M667.0,787.5 L669.4,786.7 L671.7,785.9 L674.1,785.5 L676.4,785.2 L678.8,784.9 L681.1,784.7 L683.5,784.4 L685.8,784.2 L688.2,783.9 L690.5,783.6 L692.9,783.3 L695.2,783.0 L697.6,782.8 L700.0,782.5 L702.3,782.2 L704.7,781.9 L707.0,781.6 L709.4,781.3 L711.7,781.0 L714.1,780.6 L716.4,780.4 L718.8,780.3 L721.1,780.4 L723.5,780.7 L723.5,782.9 L721.1,783.8 L718.8,784.6 L716.4,785.2 L714.1,785.6 L711.7,785.9 L709.4,786.2 L707.0,786.5 L704.7,786.8 L702.3,787.1 L700.0,787.4 L697.6,787.7 L695.2,788.0 L692.9,788.2 L690.5,788.5 L688.2,788.8 L685.8,789.1 L683.5,789.3 L681.1,789.6 L678.8,789.8 L676.4,790.1 L674.1,790.3 L671.7,790.3 L669.4,790.1 L667.0,789.7Z" fill="#000" opacity="1"/>
</g></g>
<line x1="181.2" y1="839.1" x2="181.2" y2="1145.8" stroke="#000" stroke-width="2.5" />
<line x1="170.4" y1="1138.8" x2="182.4" y2="1138.8" stroke="#000" stroke-width="2.5" />
<text x="0" y="0" font-size="33" text-anchor="end" transform="translate(153.6,1149.8) scale(0.948,1)" >0</text>
<line x1="170.4" y1="1064.2" x2="182.4" y2="1064.2" stroke="#000" stroke-width="2.5" />
<text x="0" y="0" font-size="33" text-anchor="end" transform="translate(153.6,1075.2) scale(0.948,1)" >50</text>
<line x1="170.4" y1="989.6" x2="182.4" y2="989.6" stroke="#000" stroke-width="2.5" />
<text x="0" y="0" font-size="33" text-anchor="end" transform="translate(153.6,1000.6) scale(0.948,1)" >100</text>
<line x1="170.4" y1="915.0" x2="182.4" y2="915.0" stroke="#000" stroke-width="2.5" />
<text x="0" y="0" font-size="33" text-anchor="end" transform="translate(153.6,926.0) scale(0.948,1)" >150</text>
<line x1="170.4" y1="840.4" x2="182.4" y2="840.4" stroke="#000" stroke-width="2.5" />
<text x="0" y="0" font-size="33" text-anchor="end" transform="translate(153.6,851.4) scale(0.948,1)" >200</text>
<line x1="170.4" y1="1138.8" x2="742.8" y2="1138.8" stroke="#000" stroke-width="2.5" />
<text x="0" y="0" font-size="33" text-anchor="middle" transform="translate(181.2,1185.0) scale(0.948,1)" >0</text>
<line x1="261.3" y1="1138.8" x2="261.3" y2="1145.6" stroke="#000" stroke-width="2.5" />
<text x="0" y="0" font-size="33" text-anchor="middle" transform="translate(261.3,1185.0) scale(0.948,1)" >20</text>
<line x1="341.4" y1="1138.8" x2="341.4" y2="1145.6" stroke="#000" stroke-width="2.5" />
<text x="0" y="0" font-size="33" text-anchor="middle" transform="translate(341.4,1185.0) scale(0.948,1)" >40</text>
<line x1="421.4" y1="1138.8" x2="421.4" y2="1145.6" stroke="#000" stroke-width="2.5" />
<text x="0" y="0" font-size="33" text-anchor="middle" transform="translate(421.4,1185.0) scale(0.948,1)" >60</text>
<line x1="501.5" y1="1138.8" x2="501.5" y2="1145.6" stroke="#000" stroke-width="2.5" />
<text x="0" y="0" font-size="33" text-anchor="middle" transform="translate(501.5,1185.0) scale(0.948,1)" >80</text>
<line x1="581.6" y1="1138.8" x2="581.6" y2="1145.6" stroke="#000" stroke-width="2.5" />
<text x="0" y="0" font-size="33" text-anchor="middle" transform="translate(581.6,1185.0) scale(0.948,1)" >100</text>
<line x1="661.7" y1="1138.8" x2="661.7" y2="1145.6" stroke="#000" stroke-width="2.5" />
<text x="0" y="0" font-size="33" text-anchor="middle" transform="translate(661.7,1185.0) scale(0.948,1)" >120</text>
<line x1="741.8" y1="1138.8" x2="741.8" y2="1145.6" stroke="#000" stroke-width="2.5" />
<text x="0" y="0" font-size="33" text-anchor="middle" transform="translate(741.8,1185.0) scale(0.948,1)" >140</text>
<text x="347.4" y="1211.3" font-size="31" font-weight="bold" textLength="200.8" lengthAdjust="spacing" >Time (minutes)</text>
<text x="0" y="0" font-size="31" font-weight="bold" textLength="280.5" lengthAdjust="spacing" transform="translate(50.0,1171.2) rotate(-90)" >pSTAT1/total STAT1</text>
<text x="0" y="0" font-size="31" font-weight="bold" textLength="396.5" lengthAdjust="spacing" transform="translate(85.4,1228.8) rotate(-90)" >(Fold change from 0 minutes)</text>
<line x1="360.1" y1="903.2" x2="360.1" y2="941.5" stroke="#454545" stroke-width="2.2" />
<line x1="352.3" y1="903.2" x2="367.9" y2="903.2" stroke="#454545" stroke-width="2.2" />
<line x1="352.3" y1="941.5" x2="367.9" y2="941.5" stroke="#454545" stroke-width="2.2" />
<line x1="422.4" y1="871.9" x2="422.4" y2="975.7" stroke="#454545" stroke-width="2.2" />
<line x1="414.6" y1="871.9" x2="430.2" y2="871.9" stroke="#454545" stroke-width="2.2" />
<line x1="414.6" y1="975.7" x2="430.2" y2="975.7" stroke="#454545" stroke-width="2.2" />
<line x1="661.0" y1="1087.1" x2="661.0" y2="1113.5" stroke="#454545" stroke-width="2.2" />
<line x1="653.2" y1="1087.1" x2="668.8" y2="1087.1" stroke="#454545" stroke-width="2.2" />
<line x1="653.2" y1="1113.5" x2="668.8" y2="1113.5" stroke="#454545" stroke-width="2.2" />
<line x1="300.0" y1="1016.0" x2="300.0" y2="1022.3" stroke="#454545" stroke-width="2.2" />
<line x1="293.0" y1="1022.3" x2="308.0" y2="1022.3" stroke="#454545" stroke-width="2.2" />
<line x1="241.0" y1="1121.0" x2="241.0" y2="1127.0" stroke="#454545" stroke-width="2.2" />
<line x1="234.0" y1="1127.0" x2="249.0" y2="1127.0" stroke="#454545" stroke-width="2.2" />
<path d="M176.2,1132.5 L183.6,1132.5 L198.2,1132.5 C212,1134.6 229,1133.5 239.8,1122.3 C252,1109 276,1058 300,1015.8 C322,976 338,935 359.3,919.6 C372,911.8 400,910.8 419,922.5 L660.4,1096.5" fill="none" stroke="#ED7D31" stroke-width="5.1" stroke-linejoin="round" stroke-linecap="round"/>
<circle cx="176.2" cy="1132.5" r="8.6" fill="#ED7D31"/>
<circle cx="183.6" cy="1132.5" r="8.6" fill="#ED7D31"/>
<circle cx="198.2" cy="1132.5" r="8.6" fill="#ED7D31"/>
<circle cx="239.8" cy="1122.3" r="8.6" fill="#ED7D31"/>
<circle cx="300.0" cy="1015.8" r="8.6" fill="#ED7D31"/>
<circle cx="359.3" cy="919.6" r="8.6" fill="#ED7D31"/>
<circle cx="419.0" cy="922.5" r="8.6" fill="#ED7D31"/>
<circle cx="660.4" cy="1096.5" r="8.6" fill="#ED7D31"/>
<text x="0" y="0" font-size="34" font-weight="bold" transform="translate(216.8,1103.5) scale(0.91,1)" >**</text>
<text x="0" y="0" font-size="34" font-weight="bold" transform="translate(243.9,957.3) scale(0.91,1)" >***</text>
<text x="0" y="0" font-size="34" font-weight="bold" transform="translate(336.2,900.1) scale(0.91,1)" >***</text>
<text x="0" y="0" font-size="34" font-weight="bold" transform="translate(409.4,874.4) scale(0.91,1)" >**</text>
<text x="0" y="0" font-size="34" font-weight="bold" transform="translate(657.1,1086.3) scale(0.91,1)" >*</text>
<text x="1003.0" y="537.6" font-size="31" font-weight="bold" >e.</text>
<text x="1037.5" y="537.6" font-size="31" font-weight="bold" textLength="274.0" lengthAdjust="spacing" >Total STAT1 protein</text>
<text x="934.2" y="606.7" font-size="32" textLength="63.2" lengthAdjust="spacing" >Time</text>
<text x="1006.5" y="606.7" font-size="32" textLength="91.9" lengthAdjust="spacing" >(hours)</text>
<text x="934.2" y="664.2" font-size="32" textLength="60.0" lengthAdjust="spacing" >Total</text>
<text x="1007.1" y="664.2" font-size="32" textLength="86.4" lengthAdjust="spacing" >STAT1</text>
<text x="934.2" y="726.5" font-size="32" textLength="60.0" lengthAdjust="spacing" >Total</text>
<text x="1006.2" y="726.5" font-size="32" textLength="94.1" lengthAdjust="spacing" >MAPK</text>
<polygon points="1104,586 1639,583.5 1639,668 1104,678" fill="#fcfcfc"/>
<polygon points="1104,678 1617,667 1618,730 1106,751" fill="#fafafa"/>
<polygon points="1110,676 1610,666 1611,720 1111,738" fill="#f6f6f6" filter="url(#b3)"/>
<text x="1188.6" y="583.8" font-size="25.5" font-weight="bold" text-anchor="middle" >24</text>
<text x="1339.8" y="583.8" font-size="25.5" font-weight="bold" text-anchor="middle" >36</text>
<text x="1497.5" y="583.8" font-size="25.5" font-weight="bold" text-anchor="middle" >48</text>
<path d="M1133.2,614.4 V608.6 Q1133.2,605.6 1136.2,605.6 H1190.9 Q1192.9,605.6 1192.9,603.1 V596.6 V603.1 Q1192.9,605.6 1194.9,605.6 H1250.3 Q1253.3,605.6 1253.3,608.6 V614.4" fill="none" stroke="#000" stroke-width="2.5"/>
<path d="M1297,614.4 V608.6 Q1297,605.6 1300,605.6 H1344.7 Q1346.7,605.6 1346.7,603.1 V596.6 V603.1 Q1346.7,605.6 1348.7,605.6 H1393 Q1396,605.6 1396,608.6 V614.4" fill="none" stroke="#000" stroke-width="2.5"/>
<path d="M1445,614.4 V608.6 Q1445,605.6 1448,605.6 H1499 Q1501,605.6 1501,603.1 V596.6 V603.1 Q1501,605.6 1503,605.6 H1554.1 Q1557.1,605.6 1557.1,608.6 V614.4" fill="none" stroke="#000" stroke-width="2.5"/>
<g filter="url(#b2s)">
<path d="M1135.5,632.4 L1137.9,632.0 L1140.2,631.8 L1142.6,631.5 L1145.0,631.4 L1147.4,631.4 L1149.8,631.4 L1152.1,631.4 L1154.5,631.4 L1156.9,631.3 L1159.2,631.3 L1161.6,631.3 L1164.0,631.3 L1166.4,631.3 L1168.8,631.3 L1171.1,631.2 L1173.5,631.2 L1175.9,631.2 L1178.2,631.2 L1180.6,631.2 L1183.0,631.2 L1185.4,631.2 L1187.8,631.4 L1190.1,631.7 L1192.5,631.9 L1192.5,633.6 L1190.1,634.0 L1187.8,634.2 L1185.4,634.5 L1183.0,634.6 L1180.6,634.6 L1178.2,634.6 L1175.9,634.6 L1173.5,634.6 L1171.1,634.6 L1168.8,634.7 L1166.4,634.7 L1164.0,634.7 L1161.6,634.7 L1159.2,634.7 L1156.9,634.8 L1154.5,634.8 L1152.1,634.8 L1149.8,634.8 L1147.4,634.8 L1145.0,634.8 L1142.6,634.8 L1140.2,634.6 L1137.9,634.3 L1135.5,634.1Z" fill="#333" opacity="0.42"/>
<path d="M1136.0,640.4 L1138.3,640.1 L1140.7,639.8 L1143.0,639.6 L1145.3,639.5 L1147.7,639.5 L1150.0,639.5 L1152.3,639.5 L1154.7,639.5 L1157.0,639.4 L1159.3,639.4 L1161.7,639.4 L1164.0,639.4 L1166.3,639.4 L1168.7,639.4 L1171.0,639.3 L1173.3,639.3 L1175.7,639.3 L1178.0,639.3 L1180.3,639.3 L1182.7,639.3 L1185.0,639.3 L1187.3,639.5 L1189.7,639.7 L1192.0,640.0 L1192.0,641.6 L1189.7,641.9 L1187.3,642.2 L1185.0,642.4 L1182.7,642.5 L1180.3,642.5 L1178.0,642.5 L1175.7,642.5 L1173.3,642.5 L1171.0,642.5 L1168.7,642.6 L1166.3,642.6 L1164.0,642.6 L1161.7,642.6 L1159.3,642.6 L1157.0,642.6 L1154.7,642.7 L1152.3,642.7 L1150.0,642.7 L1147.7,642.7 L1145.3,642.7 L1143.0,642.7 L1140.7,642.5 L1138.3,642.3 L1136.0,642.0Z" fill="#555" opacity="0.22"/>
<path d="M1206.4,632.8 Q1238.6,632.6 1270.8,632.4" fill="none" stroke="#000" stroke-width="12.4" stroke-linecap="round" opacity="0.04"/>
<path d="M1208.4,631.2 L1210.9,630.6 L1213.4,630.1 L1216.0,629.7 L1218.5,629.5 L1221.0,629.5 L1223.5,629.5 L1226.0,629.5 L1228.5,629.5 L1231.0,629.4 L1233.6,629.4 L1236.1,629.4 L1238.6,629.4 L1241.1,629.4 L1243.6,629.4 L1246.2,629.3 L1248.7,629.3 L1251.2,629.3 L1253.7,629.3 L1256.2,629.3 L1258.7,629.3 L1261.2,629.4 L1263.8,629.8 L1266.3,630.2 L1268.8,630.8 L1268.8,634.0 L1266.3,634.6 L1263.8,635.1 L1261.2,635.5 L1258.7,635.7 L1256.2,635.7 L1253.7,635.7 L1251.2,635.7 L1248.7,635.7 L1246.2,635.8 L1243.6,635.8 L1241.1,635.8 L1238.6,635.8 L1236.1,635.8 L1233.6,635.8 L1231.0,635.8 L1228.5,635.9 L1226.0,635.9 L1223.5,635.9 L1221.0,635.9 L1218.5,635.9 L1216.0,635.8 L1213.4,635.4 L1210.9,635.0 L1208.4,634.4Z" fill="#000" opacity="1"/>
<path d="M1210.0,641.1 L1212.4,640.6 L1214.8,640.3 L1217.2,640.0 L1219.7,639.8 L1222.1,639.8 L1224.5,639.8 L1226.9,639.8 L1229.3,639.8 L1231.8,639.8 L1234.2,639.7 L1236.6,639.7 L1239.0,639.7 L1241.4,639.7 L1243.8,639.7 L1246.2,639.6 L1248.7,639.6 L1251.1,639.6 L1253.5,639.6 L1255.9,639.6 L1258.3,639.6 L1260.8,639.7 L1263.2,639.9 L1265.6,640.3 L1268.0,640.6 L1268.0,642.9 L1265.6,643.4 L1263.2,643.7 L1260.8,644.0 L1258.3,644.2 L1255.9,644.2 L1253.5,644.2 L1251.1,644.2 L1248.7,644.2 L1246.2,644.2 L1243.8,644.3 L1241.4,644.3 L1239.0,644.3 L1236.6,644.3 L1234.2,644.3 L1231.8,644.3 L1229.3,644.4 L1226.9,644.4 L1224.5,644.4 L1222.1,644.4 L1219.7,644.4 L1217.2,644.3 L1214.8,644.1 L1212.4,643.7 L1210.0,643.4Z" fill="#000" opacity="0.78"/>
<path d="M1289.0,631.1 L1291.0,630.8 L1293.0,630.5 L1295.1,630.4 L1297.1,630.3 L1299.1,630.2 L1301.1,630.2 L1303.1,630.2 L1305.2,630.2 L1307.2,630.2 L1309.2,630.2 L1311.2,630.2 L1313.2,630.1 L1315.3,630.1 L1317.3,630.1 L1319.3,630.1 L1321.3,630.1 L1323.4,630.1 L1325.4,630.1 L1327.4,630.1 L1329.4,630.1 L1331.4,630.1 L1333.5,630.3 L1335.5,630.5 L1337.5,630.8 L1337.5,632.4 L1335.5,632.7 L1333.5,633.0 L1331.4,633.1 L1329.4,633.2 L1327.4,633.3 L1325.4,633.3 L1323.4,633.3 L1321.3,633.3 L1319.3,633.3 L1317.3,633.3 L1315.3,633.3 L1313.2,633.4 L1311.2,633.4 L1309.2,633.4 L1307.2,633.4 L1305.2,633.4 L1303.1,633.4 L1301.1,633.4 L1299.1,633.4 L1297.1,633.4 L1295.1,633.4 L1293.0,633.2 L1291.0,633.0 L1289.0,632.7Z" fill="#444" opacity="0.3"/>
<path d="M1290.0,639.2 L1292.0,638.9 L1293.9,638.7 L1295.9,638.5 L1297.8,638.4 L1299.8,638.4 L1301.8,638.3 L1303.7,638.3 L1305.7,638.3 L1307.6,638.3 L1309.6,638.3 L1311.5,638.3 L1313.5,638.3 L1315.5,638.3 L1317.4,638.3 L1319.4,638.3 L1321.3,638.3 L1323.3,638.3 L1325.2,638.2 L1327.2,638.2 L1329.2,638.2 L1331.1,638.3 L1333.1,638.5 L1335.0,638.7 L1337.0,639.0 L1337.0,640.6 L1335.0,640.9 L1333.1,641.1 L1331.1,641.3 L1329.2,641.4 L1327.2,641.4 L1325.2,641.4 L1323.3,641.5 L1321.3,641.5 L1319.4,641.5 L1317.4,641.5 L1315.5,641.5 L1313.5,641.5 L1311.5,641.5 L1309.6,641.5 L1307.6,641.5 L1305.7,641.5 L1303.7,641.5 L1301.8,641.5 L1299.8,641.6 L1297.8,641.6 L1295.9,641.5 L1293.9,641.3 L1292.0,641.1 L1290.0,640.8Z" fill="#666" opacity="0.16"/>
<path d="M1356.3,631.4 Q1384.9,631.2 1413.5,631.0" fill="none" stroke="#000" stroke-width="12.0" stroke-linecap="round" opacity="0.04"/>
<path d="M1358.3,629.9 L1360.5,629.3 L1362.7,628.9 L1365.0,628.5 L1367.2,628.3 L1369.4,628.3 L1371.6,628.3 L1373.8,628.3 L1376.0,628.3 L1378.2,628.2 L1380.5,628.2 L1382.7,628.2 L1384.9,628.2 L1387.1,628.2 L1389.3,628.2 L1391.5,628.1 L1393.8,628.1 L1396.0,628.1 L1398.2,628.1 L1400.4,628.1 L1402.6,628.1 L1404.8,628.2 L1407.1,628.5 L1409.3,629.0 L1411.5,629.5 L1411.5,632.5 L1409.3,633.1 L1407.1,633.5 L1404.8,633.9 L1402.6,634.1 L1400.4,634.1 L1398.2,634.1 L1396.0,634.1 L1393.8,634.1 L1391.5,634.1 L1389.3,634.2 L1387.1,634.2 L1384.9,634.2 L1382.7,634.2 L1380.5,634.2 L1378.2,634.2 L1376.0,634.3 L1373.8,634.3 L1371.6,634.3 L1369.4,634.3 L1367.2,634.3 L1365.0,634.2 L1362.7,633.9 L1360.5,633.4 L1358.3,632.9Z" fill="#000" opacity="1"/>
<path d="M1360.0,639.5 L1362.1,639.0 L1364.2,638.7 L1366.4,638.4 L1368.5,638.2 L1370.6,638.2 L1372.8,638.2 L1374.9,638.2 L1377.0,638.2 L1379.1,638.2 L1381.2,638.1 L1383.4,638.1 L1385.5,638.1 L1387.6,638.1 L1389.8,638.1 L1391.9,638.1 L1394.0,638.0 L1396.1,638.0 L1398.2,638.0 L1400.4,638.0 L1402.5,638.0 L1404.6,638.1 L1406.8,638.3 L1408.9,638.7 L1411.0,639.1 L1411.0,641.4 L1408.9,641.8 L1406.8,642.1 L1404.6,642.4 L1402.5,642.6 L1400.4,642.6 L1398.2,642.6 L1396.1,642.6 L1394.0,642.6 L1391.9,642.7 L1389.8,642.7 L1387.6,642.7 L1385.5,642.7 L1383.4,642.7 L1381.2,642.7 L1379.1,642.8 L1377.0,642.8 L1374.9,642.8 L1372.8,642.8 L1370.6,642.8 L1368.5,642.8 L1366.4,642.7 L1364.2,642.5 L1362.1,642.1 L1360.0,641.8Z" fill="#000" opacity="0.72"/>
<path d="M1428.8,630.7 L1431.1,630.3 L1433.3,629.9 L1435.6,629.6 L1437.8,629.4 L1440.1,629.3 L1442.3,629.2 L1444.6,629.1 L1446.9,629.0 L1449.1,628.9 L1451.4,628.8 L1453.6,628.7 L1455.9,628.6 L1458.2,628.5 L1460.4,628.4 L1462.7,628.3 L1464.9,628.2 L1467.2,628.1 L1469.5,628.0 L1471.7,627.9 L1474.0,627.8 L1476.2,627.8 L1478.5,627.9 L1480.7,628.1 L1483.0,628.3 L1483.0,630.1 L1480.7,630.5 L1478.5,630.9 L1476.2,631.2 L1474.0,631.4 L1471.7,631.5 L1469.5,631.6 L1467.2,631.7 L1464.9,631.8 L1462.7,631.9 L1460.4,632.0 L1458.2,632.1 L1455.9,632.2 L1453.6,632.3 L1451.4,632.4 L1449.1,632.5 L1446.9,632.6 L1444.6,632.7 L1442.3,632.8 L1440.1,632.9 L1437.8,633.0 L1435.6,633.0 L1433.3,632.9 L1431.1,632.7 L1428.8,632.5Z" fill="#222" opacity="0.5"/>
<path d="M1430.0,638.4 L1432.2,638.0 L1434.3,637.7 L1436.5,637.5 L1438.7,637.3 L1440.8,637.2 L1443.0,637.1 L1445.2,637.1 L1447.3,637.0 L1449.5,636.9 L1451.7,636.8 L1453.8,636.8 L1456.0,636.7 L1458.2,636.6 L1460.3,636.5 L1462.5,636.5 L1464.7,636.4 L1466.8,636.3 L1469.0,636.2 L1471.2,636.2 L1473.3,636.1 L1475.5,636.1 L1477.7,636.2 L1479.8,636.4 L1482.0,636.6 L1482.0,638.2 L1479.8,638.6 L1477.7,638.9 L1475.5,639.1 L1473.3,639.3 L1471.2,639.4 L1469.0,639.4 L1466.8,639.5 L1464.7,639.6 L1462.5,639.7 L1460.3,639.8 L1458.2,639.8 L1456.0,639.9 L1453.8,640.0 L1451.7,640.0 L1449.5,640.1 L1447.3,640.2 L1445.2,640.3 L1443.0,640.4 L1440.8,640.4 L1438.7,640.5 L1436.5,640.5 L1434.3,640.4 L1432.2,640.2 L1430.0,640.0Z" fill="#666" opacity="0.2"/>
<path d="M1505.4,629.6 Q1541.5,628.8 1577.6,626.4" fill="none" stroke="#000" stroke-width="13.8" stroke-linecap="round" opacity="0.04"/>
<path d="M1507.4,627.6 L1510.2,626.9 L1513.1,626.2 L1515.9,625.7 L1518.8,625.4 L1521.6,625.3 L1524.4,625.2 L1527.3,625.1 L1530.1,625.0 L1533.0,624.9 L1535.8,624.8 L1538.7,624.6 L1541.5,624.5 L1544.3,624.4 L1547.2,624.2 L1550.0,624.1 L1552.9,623.9 L1555.7,623.8 L1558.5,623.6 L1561.4,623.4 L1564.2,623.3 L1567.1,623.3 L1569.9,623.5 L1572.8,624.0 L1575.6,624.4 L1575.6,628.4 L1572.8,629.2 L1569.9,630.0 L1567.1,630.7 L1564.2,631.0 L1561.4,631.2 L1558.5,631.4 L1555.7,631.6 L1552.9,631.7 L1550.0,631.9 L1547.2,632.0 L1544.3,632.2 L1541.5,632.3 L1538.7,632.4 L1535.8,632.6 L1533.0,632.7 L1530.1,632.8 L1527.3,632.9 L1524.4,633.0 L1521.6,633.1 L1518.8,633.2 L1515.9,633.1 L1513.1,632.7 L1510.2,632.2 L1507.4,631.6Z" fill="#000" opacity="1"/>
<path d="M1509.0,636.6 L1511.8,636.2 L1514.5,635.8 L1517.2,635.5 L1520.0,635.3 L1522.8,635.2 L1525.5,635.1 L1528.2,635.0 L1531.0,634.9 L1533.8,634.8 L1536.5,634.7 L1539.3,634.6 L1542.0,634.5 L1544.8,634.4 L1547.5,634.3 L1550.2,634.1 L1553.0,634.0 L1555.8,633.8 L1558.5,633.7 L1561.2,633.5 L1564.0,633.4 L1566.8,633.4 L1569.5,633.4 L1572.3,633.6 L1575.0,633.9 L1575.0,636.1 L1572.3,636.7 L1569.5,637.3 L1566.8,637.7 L1564.0,638.0 L1561.2,638.1 L1558.5,638.3 L1555.8,638.4 L1553.0,638.6 L1550.2,638.7 L1547.5,638.9 L1544.8,639.0 L1542.0,639.1 L1539.3,639.2 L1536.5,639.3 L1533.8,639.4 L1531.0,639.5 L1528.2,639.6 L1525.5,639.7 L1522.8,639.8 L1520.0,639.8 L1517.2,639.8 L1514.5,639.6 L1511.8,639.3 L1509.0,638.9Z" fill="#000" opacity="0.72"/>
</g><g filter="url(#b2)">
<path d="M1120.4,694.4 L1123.0,693.1 L1125.6,692.0 L1128.2,691.2 L1130.8,690.8 L1133.3,690.8 L1135.9,690.8 L1138.5,690.8 L1141.1,690.7 L1143.7,690.7 L1146.3,690.7 L1148.9,690.7 L1151.5,690.7 L1154.0,690.6 L1156.6,690.6 L1159.2,690.6 L1161.8,690.6 L1164.4,690.5 L1167.0,690.5 L1169.6,690.5 L1172.2,690.5 L1174.7,690.9 L1177.3,691.6 L1179.9,692.7 L1182.5,693.9 L1182.5,700.9 L1179.9,702.2 L1177.3,703.3 L1174.7,704.1 L1172.2,704.5 L1169.6,704.5 L1167.0,704.5 L1164.4,704.5 L1161.8,704.6 L1159.2,704.6 L1156.6,704.6 L1154.0,704.6 L1151.5,704.7 L1148.9,704.7 L1146.3,704.7 L1143.7,704.7 L1141.1,704.7 L1138.5,704.8 L1135.9,704.8 L1133.3,704.8 L1130.8,704.8 L1128.2,704.4 L1125.6,703.7 L1123.0,702.6 L1120.4,701.4Z" fill="#000" opacity="0.09"/>
<path d="M1118.4,685.9 L1121.2,685.2 L1123.9,684.6 L1126.7,684.2 L1129.4,684.0 L1132.2,684.0 L1134.9,684.0 L1137.7,683.9 L1140.4,683.9 L1143.2,683.9 L1145.9,683.8 L1148.7,683.8 L1151.5,683.8 L1154.2,683.8 L1157.0,683.8 L1159.7,683.7 L1162.5,683.7 L1165.2,683.7 L1168.0,683.6 L1170.7,683.6 L1173.5,683.6 L1176.2,683.8 L1179.0,684.1 L1181.7,684.7 L1184.5,685.2 L1184.5,688.8 L1181.7,689.4 L1179.0,690.0 L1176.2,690.4 L1173.5,690.6 L1170.7,690.6 L1168.0,690.6 L1165.2,690.7 L1162.5,690.7 L1159.7,690.7 L1157.0,690.8 L1154.2,690.8 L1151.5,690.8 L1148.7,690.8 L1145.9,690.8 L1143.2,690.9 L1140.4,690.9 L1137.7,690.9 L1134.9,691.0 L1132.2,691.0 L1129.4,691.0 L1126.7,690.8 L1123.9,690.5 L1121.2,689.9 L1118.4,689.4Z" fill="#000" opacity="0.6"/>
<path d="M1115.4,708.2 Q1151.5,708.8 1187.5,707.8" fill="none" stroke="#000" stroke-width="15.0" stroke-linecap="round" opacity="0.1"/>
<path d="M1117.4,706.0 L1120.2,705.2 L1123.1,704.5 L1125.9,704.1 L1128.8,703.9 L1131.6,703.9 L1134.4,703.9 L1137.3,703.9 L1140.1,703.9 L1142.9,703.9 L1145.8,703.9 L1148.6,703.9 L1151.5,703.9 L1154.3,703.9 L1157.1,703.9 L1160.0,703.8 L1162.8,703.8 L1165.6,703.7 L1168.5,703.7 L1171.3,703.6 L1174.2,703.6 L1177.0,703.8 L1179.8,704.2 L1182.7,704.8 L1185.5,705.5 L1185.5,710.0 L1182.7,710.9 L1179.8,711.7 L1177.0,712.3 L1174.2,712.6 L1171.3,712.6 L1168.5,712.7 L1165.6,712.7 L1162.8,712.8 L1160.0,712.8 L1157.1,712.9 L1154.3,712.9 L1151.5,712.9 L1148.6,712.9 L1145.8,712.9 L1142.9,712.9 L1140.1,712.9 L1137.3,712.9 L1134.4,712.9 L1131.6,712.9 L1128.8,712.8 L1125.9,712.6 L1123.1,712.0 L1120.2,711.3 L1117.4,710.5Z" fill="#000" opacity="0.92"/>
<path d="M1203.6,693.9 L1206.1,692.6 L1208.6,691.5 L1211.1,690.7 L1213.6,690.3 L1216.1,690.3 L1218.6,690.2 L1221.0,690.2 L1223.5,690.2 L1226.0,690.2 L1228.5,690.1 L1231.0,690.1 L1233.5,690.1 L1236.0,690.1 L1238.5,690.0 L1241.0,690.0 L1243.5,690.0 L1246.0,690.0 L1248.5,689.9 L1250.9,689.9 L1253.4,689.9 L1255.9,690.3 L1258.4,691.0 L1260.9,692.1 L1263.4,693.3 L1263.4,700.3 L1260.9,701.6 L1258.4,702.7 L1255.9,703.5 L1253.4,703.9 L1250.9,703.9 L1248.5,703.9 L1246.0,704.0 L1243.5,704.0 L1241.0,704.0 L1238.5,704.0 L1236.0,704.1 L1233.5,704.1 L1231.0,704.1 L1228.5,704.1 L1226.0,704.2 L1223.5,704.2 L1221.0,704.2 L1218.6,704.2 L1216.1,704.3 L1213.6,704.3 L1211.1,703.9 L1208.6,703.2 L1206.1,702.1 L1203.6,700.9Z" fill="#000" opacity="0.09"/>
<path d="M1201.6,685.4 L1204.3,684.8 L1206.9,684.3 L1209.6,683.9 L1212.2,683.7 L1214.9,683.6 L1217.6,683.6 L1220.2,683.6 L1222.9,683.5 L1225.5,683.5 L1228.2,683.5 L1230.8,683.4 L1233.5,683.4 L1236.2,683.4 L1238.8,683.3 L1241.5,683.3 L1244.1,683.3 L1246.8,683.2 L1249.5,683.2 L1252.1,683.2 L1254.8,683.1 L1257.4,683.3 L1260.1,683.6 L1262.7,684.1 L1265.4,684.6 L1265.4,687.8 L1262.7,688.4 L1260.1,688.9 L1257.4,689.3 L1254.8,689.5 L1252.1,689.6 L1249.5,689.6 L1246.8,689.6 L1244.1,689.7 L1241.5,689.7 L1238.8,689.7 L1236.2,689.8 L1233.5,689.8 L1230.8,689.8 L1228.2,689.9 L1225.5,689.9 L1222.9,689.9 L1220.2,690.0 L1217.6,690.0 L1214.9,690.0 L1212.2,690.1 L1209.6,689.9 L1206.9,689.6 L1204.3,689.1 L1201.6,688.6Z" fill="#000" opacity="0.5"/>
<path d="M1198.6,707.8 Q1233.5,708.4 1268.4,707.4" fill="none" stroke="#000" stroke-width="15.0" stroke-linecap="round" opacity="0.1"/>
<path d="M1200.6,705.5 L1203.3,704.8 L1206.1,704.1 L1208.8,703.7 L1211.6,703.5 L1214.3,703.5 L1217.1,703.5 L1219.8,703.5 L1222.5,703.5 L1225.3,703.5 L1228.0,703.5 L1230.8,703.5 L1233.5,703.5 L1236.2,703.5 L1239.0,703.5 L1241.7,703.4 L1244.5,703.4 L1247.2,703.3 L1250.0,703.3 L1252.7,703.2 L1255.4,703.2 L1258.2,703.4 L1260.9,703.8 L1263.7,704.4 L1266.4,705.1 L1266.4,709.6 L1263.7,710.5 L1260.9,711.3 L1258.2,711.9 L1255.4,712.2 L1252.7,712.2 L1250.0,712.3 L1247.2,712.3 L1244.5,712.4 L1241.7,712.4 L1239.0,712.5 L1236.2,712.5 L1233.5,712.5 L1230.8,712.5 L1228.0,712.5 L1225.3,712.5 L1222.5,712.5 L1219.8,712.5 L1217.1,712.5 L1214.3,712.5 L1211.6,712.4 L1208.8,712.2 L1206.1,711.6 L1203.3,710.9 L1200.6,710.0Z" fill="#000" opacity="0.94"/>
<path d="M1284.0,690.8 L1286.2,689.5 L1288.5,688.5 L1290.7,687.7 L1293.0,687.3 L1295.2,687.3 L1297.5,687.3 L1299.7,687.2 L1301.9,687.2 L1304.2,687.2 L1306.4,687.2 L1308.7,687.2 L1310.9,687.2 L1313.1,687.2 L1315.4,687.2 L1317.6,687.2 L1319.9,687.2 L1322.1,687.2 L1324.3,687.2 L1326.6,687.1 L1328.8,687.2 L1331.1,687.5 L1333.3,688.3 L1335.6,689.4 L1337.8,690.6 L1337.8,697.6 L1335.6,698.9 L1333.3,699.9 L1331.1,700.7 L1328.8,701.1 L1326.6,701.1 L1324.3,701.2 L1322.1,701.2 L1319.9,701.2 L1317.6,701.2 L1315.4,701.2 L1313.1,701.2 L1310.9,701.2 L1308.7,701.2 L1306.4,701.2 L1304.2,701.2 L1301.9,701.2 L1299.7,701.2 L1297.5,701.3 L1295.2,701.3 L1293.0,701.2 L1290.7,700.9 L1288.5,700.1 L1286.2,699.0 L1284.0,697.8Z" fill="#000" opacity="0.09"/>
<path d="M1282.0,681.1 L1284.4,680.5 L1286.8,680.0 L1289.2,679.6 L1291.6,679.4 L1294.0,679.4 L1296.5,679.4 L1298.9,679.3 L1301.3,679.3 L1303.7,679.3 L1306.1,679.3 L1308.5,679.3 L1310.9,679.3 L1313.3,679.3 L1315.7,679.3 L1318.1,679.3 L1320.5,679.3 L1322.9,679.3 L1325.3,679.3 L1327.8,679.2 L1330.2,679.2 L1332.6,679.4 L1335.0,679.8 L1337.4,680.3 L1339.8,680.9 L1339.8,684.3 L1337.4,684.9 L1335.0,685.4 L1332.6,685.8 L1330.2,686.0 L1327.8,686.0 L1325.3,686.1 L1322.9,686.1 L1320.5,686.1 L1318.1,686.1 L1315.7,686.1 L1313.3,686.1 L1310.9,686.1 L1308.5,686.1 L1306.1,686.1 L1303.7,686.1 L1301.3,686.1 L1298.9,686.1 L1296.5,686.2 L1294.0,686.2 L1291.6,686.2 L1289.2,686.0 L1286.8,685.6 L1284.4,685.1 L1282.0,684.5Z" fill="#000" opacity="0.62"/>
<path d="M1279.0,705.8 Q1310.9,706.5 1342.8,705.6" fill="none" stroke="#000" stroke-width="14.2" stroke-linecap="round" opacity="0.1"/>
<path d="M1281.0,703.8 L1283.5,703.1 L1286.0,702.5 L1288.5,702.1 L1291.0,701.9 L1293.5,701.9 L1296.0,702.0 L1298.4,702.0 L1300.9,702.0 L1303.4,702.0 L1305.9,702.0 L1308.4,702.0 L1310.9,702.0 L1313.4,702.0 L1315.9,702.0 L1318.4,701.9 L1320.9,701.9 L1323.4,701.9 L1325.8,701.9 L1328.3,701.8 L1330.8,701.8 L1333.3,701.9 L1335.8,702.3 L1338.3,702.9 L1340.8,703.6 L1340.8,707.6 L1338.3,708.5 L1335.8,709.2 L1333.3,709.7 L1330.8,709.9 L1328.3,710.0 L1325.8,710.1 L1323.4,710.1 L1320.9,710.1 L1318.4,710.1 L1315.9,710.2 L1313.4,710.2 L1310.9,710.2 L1308.4,710.2 L1305.9,710.2 L1303.4,710.2 L1300.9,710.2 L1298.4,710.2 L1296.0,710.2 L1293.5,710.1 L1291.0,710.1 L1288.5,709.8 L1286.0,709.3 L1283.5,708.6 L1281.0,707.8Z" fill="#000" opacity="0.92"/>
<path d="M1361.4,692.5 L1363.9,691.3 L1366.5,690.2 L1369.0,689.4 L1371.5,689.0 L1374.1,689.0 L1376.6,689.0 L1379.1,689.0 L1381.7,689.0 L1384.2,689.0 L1386.7,689.0 L1389.3,689.0 L1391.8,689.0 L1394.3,688.9 L1396.9,688.9 L1399.4,688.9 L1401.9,688.9 L1404.5,688.9 L1407.0,688.9 L1409.5,688.9 L1412.1,688.9 L1414.6,689.3 L1417.1,690.1 L1419.7,691.2 L1422.2,692.4 L1422.2,699.4 L1419.7,700.6 L1417.1,701.7 L1414.6,702.5 L1412.1,702.9 L1409.5,702.9 L1407.0,702.9 L1404.5,702.9 L1401.9,702.9 L1399.4,702.9 L1396.9,702.9 L1394.3,702.9 L1391.8,703.0 L1389.3,703.0 L1386.7,703.0 L1384.2,703.0 L1381.7,703.0 L1379.1,703.0 L1376.6,703.0 L1374.1,703.0 L1371.5,703.0 L1369.0,702.6 L1366.5,701.8 L1363.9,700.7 L1361.4,699.5Z" fill="#000" opacity="0.09"/>
<path d="M1359.4,683.5 L1362.1,683.0 L1364.8,682.5 L1367.5,682.2 L1370.2,682.0 L1372.9,682.0 L1375.6,682.0 L1378.3,682.0 L1381.0,682.0 L1383.7,682.0 L1386.4,682.0 L1389.1,682.0 L1391.8,682.0 L1394.5,682.0 L1397.2,682.0 L1399.9,682.0 L1402.6,682.0 L1405.3,682.0 L1408.0,682.0 L1410.7,682.0 L1413.4,682.0 L1416.1,682.2 L1418.8,682.5 L1421.5,683.0 L1424.2,683.5 L1424.2,686.5 L1421.5,687.0 L1418.8,687.5 L1416.1,687.8 L1413.4,688.0 L1410.7,688.0 L1408.0,688.0 L1405.3,688.0 L1402.6,688.0 L1399.9,688.0 L1397.2,688.0 L1394.5,688.0 L1391.8,688.0 L1389.1,688.0 L1386.4,688.0 L1383.7,688.0 L1381.0,688.0 L1378.3,688.0 L1375.6,688.0 L1372.9,688.0 L1370.2,688.0 L1367.5,687.8 L1364.8,687.5 L1362.1,687.0 L1359.4,686.5Z" fill="#000" opacity="0.42"/>
<path d="M1356.4,707.0 Q1391.8,707.7 1427.2,706.8" fill="none" stroke="#000" stroke-width="13.6" stroke-linecap="round" opacity="0.1"/>
<path d="M1358.4,705.1 L1361.2,704.5 L1364.0,703.9 L1366.8,703.6 L1369.5,703.4 L1372.3,703.4 L1375.1,703.5 L1377.9,703.5 L1380.7,703.5 L1383.5,703.5 L1386.2,703.5 L1389.0,703.5 L1391.8,703.5 L1394.6,703.5 L1397.4,703.5 L1400.2,703.5 L1402.9,703.4 L1405.7,703.4 L1408.5,703.4 L1411.3,703.3 L1414.1,703.3 L1416.9,703.4 L1419.6,703.8 L1422.4,704.3 L1425.2,704.9 L1425.2,708.7 L1422.4,709.4 L1419.6,710.1 L1416.9,710.6 L1414.1,710.8 L1411.3,710.9 L1408.5,710.9 L1405.7,711.0 L1402.9,711.0 L1400.2,711.0 L1397.4,711.1 L1394.6,711.1 L1391.8,711.1 L1389.0,711.1 L1386.2,711.1 L1383.5,711.1 L1380.7,711.1 L1377.9,711.1 L1375.1,711.0 L1372.3,711.0 L1369.5,711.0 L1366.8,710.7 L1364.0,710.3 L1361.2,709.6 L1358.4,708.9Z" fill="#000" opacity="0.9"/>
<path d="M1444.7,692.0 L1446.9,690.7 L1449.2,689.5 L1451.4,688.6 L1453.7,688.2 L1455.9,688.1 L1458.2,688.0 L1460.4,687.9 L1462.6,687.8 L1464.9,687.7 L1467.1,687.6 L1469.4,687.5 L1471.6,687.5 L1473.8,687.4 L1476.1,687.3 L1478.3,687.2 L1480.6,687.1 L1482.8,687.0 L1485.0,686.9 L1487.3,686.8 L1489.5,686.8 L1491.8,687.1 L1494.0,687.7 L1496.3,688.7 L1498.5,689.9 L1498.5,696.9 L1496.3,698.2 L1494.0,699.4 L1491.8,700.3 L1489.5,700.7 L1487.3,700.8 L1485.0,700.9 L1482.8,701.0 L1480.6,701.1 L1478.3,701.2 L1476.1,701.3 L1473.8,701.4 L1471.6,701.5 L1469.4,701.5 L1467.1,701.6 L1464.9,701.7 L1462.6,701.8 L1460.4,701.9 L1458.2,702.0 L1455.9,702.1 L1453.7,702.1 L1451.4,701.8 L1449.2,701.2 L1446.9,700.2 L1444.7,699.0Z" fill="#000" opacity="0.09"/>
<path d="M1442.7,682.1 L1445.1,681.3 L1447.5,680.6 L1449.9,680.1 L1452.3,679.7 L1454.7,679.5 L1457.2,679.4 L1459.6,679.2 L1462.0,679.1 L1464.4,678.9 L1466.8,678.8 L1469.2,678.6 L1471.6,678.5 L1474.0,678.3 L1476.4,678.2 L1478.8,678.0 L1481.2,677.9 L1483.6,677.8 L1486.0,677.6 L1488.5,677.4 L1490.9,677.3 L1493.3,677.4 L1495.7,677.6 L1498.1,678.0 L1500.5,678.5 L1500.5,682.2 L1498.1,683.1 L1495.7,683.8 L1493.3,684.3 L1490.9,684.7 L1488.5,684.9 L1486.0,685.0 L1483.6,685.2 L1481.2,685.3 L1478.8,685.5 L1476.4,685.6 L1474.0,685.8 L1471.6,685.9 L1469.2,686.1 L1466.8,686.2 L1464.4,686.4 L1462.0,686.5 L1459.6,686.6 L1457.2,686.8 L1454.7,687.0 L1452.3,687.1 L1449.9,687.0 L1447.5,686.8 L1445.1,686.4 L1442.7,685.9Z" fill="#000" opacity="0.78"/>
<path d="M1439.7,707.0 Q1471.6,707.5 1503.5,706.4" fill="none" stroke="#000" stroke-width="16.4" stroke-linecap="round" opacity="0.1"/>
<path d="M1441.7,704.4 L1444.2,703.5 L1446.7,702.7 L1449.2,702.2 L1451.7,701.9 L1454.2,701.9 L1456.7,701.9 L1459.1,702.0 L1461.6,702.0 L1464.1,701.9 L1466.6,701.9 L1469.1,701.9 L1471.6,701.9 L1474.1,701.9 L1476.6,701.8 L1479.1,701.8 L1481.6,701.8 L1484.1,701.7 L1486.5,701.6 L1489.0,701.6 L1491.5,701.5 L1494.0,701.7 L1496.5,702.2 L1499.0,703.0 L1501.5,703.8 L1501.5,709.0 L1499.0,710.0 L1496.5,710.9 L1494.0,711.6 L1491.5,711.9 L1489.0,712.0 L1486.5,712.0 L1484.1,712.1 L1481.6,712.2 L1479.1,712.2 L1476.6,712.2 L1474.1,712.3 L1471.6,712.3 L1469.1,712.3 L1466.6,712.3 L1464.1,712.4 L1461.6,712.4 L1459.1,712.4 L1456.7,712.4 L1454.2,712.3 L1451.7,712.3 L1449.2,712.0 L1446.7,711.4 L1444.2,710.6 L1441.7,709.6Z" fill="#000" opacity="1"/>
<path d="M1523.3,688.9 L1525.9,687.6 L1528.6,686.4 L1531.2,685.5 L1533.8,685.1 L1536.4,684.9 L1539.1,684.8 L1541.7,684.8 L1544.3,684.7 L1547.0,684.6 L1549.6,684.5 L1552.2,684.4 L1554.8,684.3 L1557.5,684.2 L1560.1,684.1 L1562.7,684.0 L1565.4,683.9 L1568.0,683.8 L1570.6,683.8 L1573.3,683.7 L1575.9,683.6 L1578.5,683.9 L1581.1,684.6 L1583.8,685.5 L1586.4,686.7 L1586.4,693.7 L1583.8,695.0 L1581.1,696.2 L1578.5,697.1 L1575.9,697.5 L1573.3,697.7 L1570.6,697.8 L1568.0,697.8 L1565.4,697.9 L1562.7,698.0 L1560.1,698.1 L1557.5,698.2 L1554.8,698.3 L1552.2,698.4 L1549.6,698.5 L1547.0,698.6 L1544.3,698.7 L1541.7,698.8 L1539.1,698.8 L1536.4,698.9 L1533.8,699.0 L1531.2,698.7 L1528.6,698.0 L1525.9,697.1 L1523.3,695.9Z" fill="#000" opacity="0.09"/>
<path d="M1521.3,679.9 L1524.1,679.2 L1526.9,678.7 L1529.7,678.2 L1532.5,677.9 L1535.3,677.8 L1538.1,677.6 L1540.9,677.5 L1543.7,677.4 L1546.5,677.3 L1549.3,677.1 L1552.1,677.0 L1554.8,676.9 L1557.6,676.8 L1560.4,676.7 L1563.2,676.5 L1566.0,676.4 L1568.8,676.3 L1571.6,676.1 L1574.4,676.0 L1577.2,675.9 L1580.0,675.9 L1582.8,676.2 L1585.6,676.5 L1588.4,676.9 L1588.4,679.9 L1585.6,680.6 L1582.8,681.1 L1580.0,681.6 L1577.2,681.9 L1574.4,682.0 L1571.6,682.1 L1568.8,682.3 L1566.0,682.4 L1563.2,682.5 L1560.4,682.7 L1557.6,682.8 L1554.8,682.9 L1552.1,683.0 L1549.3,683.1 L1546.5,683.3 L1543.7,683.4 L1540.9,683.5 L1538.1,683.6 L1535.3,683.8 L1532.5,683.9 L1529.7,683.9 L1526.9,683.6 L1524.1,683.3 L1521.3,682.9Z" fill="#000" opacity="0.58"/>
<path d="M1518.3,703.4 Q1554.8,703.5 1591.4,702.0" fill="none" stroke="#000" stroke-width="15.4" stroke-linecap="round" opacity="0.1"/>
<path d="M1520.3,701.0 L1523.2,700.2 L1526.1,699.5 L1528.9,699.0 L1531.8,698.7 L1534.7,698.7 L1537.6,698.6 L1540.5,698.6 L1543.3,698.6 L1546.2,698.5 L1549.1,698.5 L1552.0,698.5 L1554.8,698.4 L1557.7,698.3 L1560.6,698.3 L1563.5,698.2 L1566.4,698.1 L1569.2,698.0 L1572.1,697.9 L1575.0,697.9 L1577.9,697.8 L1580.8,697.9 L1583.6,698.3 L1586.5,698.9 L1589.4,699.6 L1589.4,704.4 L1586.5,705.3 L1583.6,706.2 L1580.8,706.8 L1577.9,707.1 L1575.0,707.3 L1572.1,707.4 L1569.2,707.4 L1566.4,707.5 L1563.5,707.6 L1560.6,707.7 L1557.7,707.7 L1554.8,707.8 L1552.0,707.9 L1549.1,707.9 L1546.2,708.0 L1543.3,708.0 L1540.5,708.0 L1537.6,708.0 L1534.7,708.1 L1531.8,708.1 L1528.9,707.8 L1526.1,707.3 L1523.2,706.6 L1520.3,705.8Z" fill="#000" opacity="1"/>
</g>
<text x="1142.3" y="759.8" font-size="31" font-weight="bold" text-anchor="middle" >C</text>
<text x="1231.2" y="759.8" font-size="31" font-weight="bold" text-anchor="middle" >I</text>
<text x="1315.5" y="759.8" font-size="31" font-weight="bold" text-anchor="middle" >C</text>
<text x="1393.0" y="759.8" font-size="31" font-weight="bold" text-anchor="middle" >I</text>
<text x="1489.0" y="759.8" font-size="31" font-weight="bold" text-anchor="middle" >C</text>
<text x="1566.0" y="759.8" font-size="31" font-weight="bold" text-anchor="middle" >I</text>
<line x1="1139.0" y1="808.5" x2="1139.0" y2="1112.8" stroke="#000" stroke-width="2.5" />
<line x1="1131.0" y1="1105.4" x2="1140.2" y2="1105.4" stroke="#000" stroke-width="2.5" />
<text x="0" y="0" font-size="33" text-anchor="end" transform="translate(1110.3,1116.4) scale(0.948,1)" >0</text>
<line x1="1131.0" y1="1006.8" x2="1140.2" y2="1006.8" stroke="#000" stroke-width="2.5" />
<text x="0" y="0" font-size="33" text-anchor="end" transform="translate(1110.3,1017.8) scale(0.948,1)" >5</text>
<line x1="1131.0" y1="908.3" x2="1140.2" y2="908.3" stroke="#000" stroke-width="2.5" />
<text x="0" y="0" font-size="33" text-anchor="end" transform="translate(1110.3,919.3) scale(0.948,1)" >10</text>
<line x1="1131.0" y1="809.7" x2="1140.2" y2="809.7" stroke="#000" stroke-width="2.5" />
<text x="0" y="0" font-size="33" text-anchor="end" transform="translate(1110.3,820.7) scale(0.948,1)" >15</text>
<line x1="1131.0" y1="1105.4" x2="1628.0" y2="1105.4" stroke="#000" stroke-width="2.5" />
<line x1="1302.5" y1="1105.4" x2="1302.5" y2="1112.8" stroke="#000" stroke-width="2.5" />
<line x1="1466.0" y1="1105.4" x2="1466.0" y2="1112.8" stroke="#000" stroke-width="2.5" />
<text x="0" y="0" font-size="33" text-anchor="middle" transform="translate(1219.8,1152.0) scale(0.948,1)" >24</text>
<text x="0" y="0" font-size="33" text-anchor="middle" transform="translate(1382.6,1152.0) scale(0.948,1)" >36</text>
<text x="0" y="0" font-size="33" text-anchor="middle" transform="translate(1546.2,1152.0) scale(0.948,1)" >48</text>
<text x="1305.6" y="1192.7" font-size="31" font-weight="bold" textLength="174.8" lengthAdjust="spacing" >Time (hours)</text>
<text x="0" y="0" font-size="31" font-weight="bold" textLength="345.6" lengthAdjust="spacing" transform="translate(1016.2,1157.4) rotate(-90)" >Total STAT1/Total MAPK</text>
<text x="0" y="0" font-size="31" font-weight="bold" textLength="411.5" lengthAdjust="spacing" transform="translate(1052.0,1189.5) rotate(-90)" >(Fold change from 24h control)</text>
<line x1="1188.6" y1="826.2" x2="1239.6" y2="826.2" stroke="#2F5597" stroke-width="5" stroke-linecap="round"/>
<circle cx="1213.1" cy="824.4" r="6.3" fill="#4472C4"/>
<text x="1244.0" y="836.8" font-size="31" font-weight="bold" textLength="157.0" lengthAdjust="spacing" >Control (C)</text>
<line x1="1188.6" y1="875.7" x2="1239.6" y2="875.7" stroke="#ED7D31" stroke-width="5" stroke-linecap="round"/>
<circle cx="1213.1" cy="874.2" r="6.3" fill="#ED7D31"/>
<text x="1244.2" y="886.8" font-size="31" font-weight="bold" textLength="114.8" lengthAdjust="spacing" >IFNT (I)</text>
<line x1="1222.1" y1="999.0" x2="1222.1" y2="1014.0" stroke="#454545" stroke-width="2.2" />
<line x1="1214.2" y1="999.0" x2="1230.0" y2="999.0" stroke="#454545" stroke-width="2.2" />
<line x1="1385.9" y1="986.3" x2="1385.9" y2="1004.0" stroke="#454545" stroke-width="2.2" />
<line x1="1378.0" y1="986.3" x2="1393.8" y2="986.3" stroke="#454545" stroke-width="2.2" />
<line x1="1548.8" y1="913.3" x2="1548.8" y2="963.0" stroke="#454545" stroke-width="2.2" />
<line x1="1540.9" y1="913.3" x2="1556.7" y2="913.3" stroke="#454545" stroke-width="2.2" />
<line x1="1548.0" y1="1087.4" x2="1557.5" y2="1087.4" stroke="#454545" stroke-width="2.2" />
<polyline points="1220.5,1016.0 1384.0,1005.8 1547.6,964.6" fill="none" stroke="#ED7D31" stroke-width="4.9" stroke-linejoin="round" stroke-linecap="round" />
<circle cx="1218.8" cy="1014.6" r="6.2" fill="#ED7D31"/>
<circle cx="1382.3" cy="1004.2" r="6.2" fill="#ED7D31"/>
<circle cx="1546.0" cy="963.1" r="6.2" fill="#ED7D31"/>
<polyline points="1220.5,1085.3 1384.0,1088.5 1547.6,1089.0" fill="none" stroke="#2F5597" stroke-width="5.3" stroke-linejoin="round" stroke-linecap="round" />
<circle cx="1218.8" cy="1082.0" r="6.2" fill="#4472C4"/>
<circle cx="1382.3" cy="1084.8" r="6.2" fill="#4472C4"/>
<circle cx="1546.0" cy="1087.0" r="6.2" fill="#4472C4"/>
<text x="0" y="0" font-size="34" font-weight="bold" transform="translate(1193.4,990.5) scale(0.91,1)" >***</text>
<text x="0" y="0" font-size="34" font-weight="bold" transform="translate(1359.4,974.2) scale(0.91,1)" >***</text>
<text x="0" y="0" font-size="34" font-weight="bold" transform="translate(1539.2,906.8) scale(0.91,1)" >*</text>
</svg></body></html>
